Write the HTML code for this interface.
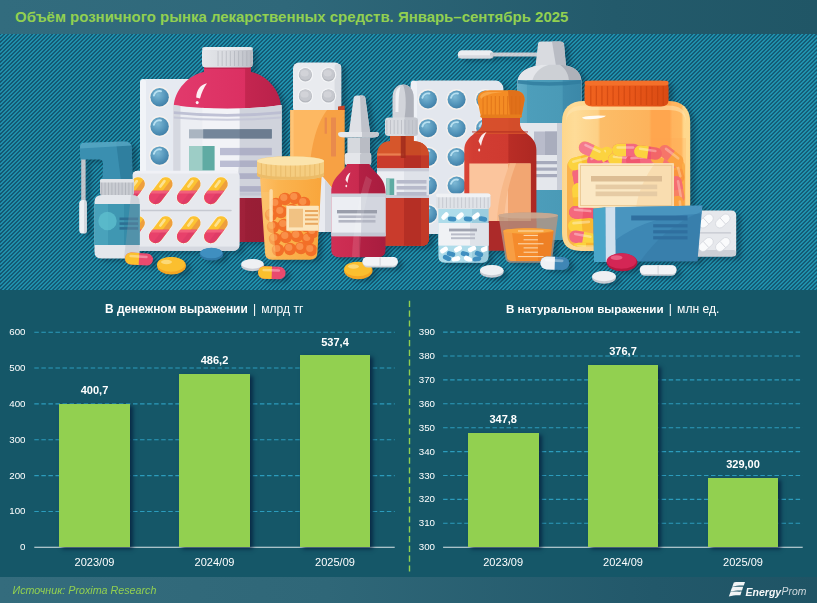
<!DOCTYPE html>
<html lang="ru">
<head>
<meta charset="utf-8">
<title>Объём розничного рынка лекарственных средств</title>
<style>
html,body{margin:0;padding:0;}
body{width:817px;height:603px;position:relative;overflow:hidden;background:#155768;font-family:"Liberation Sans",sans-serif;color:#fff;}
#titlebar{position:absolute;left:0;top:0;width:817px;height:34px;background:linear-gradient(90deg,#326c7e 0%,#2f687a 35%,#235a6b 75%,#205666 100%);}
#titlebar h1{position:absolute;left:15px;top:6.4px;margin:0;font-size:14.96px;line-height:22px;font-weight:bold;color:#92d050;white-space:nowrap;}
#hero{position:absolute;left:0;top:34px;width:817px;height:256px;overflow:hidden;background:#1d7c95;}
#hero svg{position:absolute;left:0;top:-34px;}
#charts{position:absolute;left:0;top:290px;width:817px;height:287px;background:#155768;}
#footer{position:absolute;left:0;top:577px;width:817px;height:26px;background:linear-gradient(90deg,#346c7d 0%,#2f6778 40%,#22586a 80%,#1f5465 100%);}
#footer .src{position:absolute;left:12.5px;top:6px;font-size:10.73px;line-height:14px;font-style:italic;color:#92d050;white-space:nowrap;}
.ct{position:absolute;top:301px;height:16px;line-height:16px;font-size:12.1px;white-space:nowrap;color:#fff;}
.ct b{font-weight:bold;font-size:11.91px;}
.ct b.b2{font-size:11.62px;}
.ct .sep{display:inline-block;margin:0 1.8px;}
.yl{position:absolute;width:30px;text-align:right;font-size:9.77px;line-height:12px;color:#fff;}
.xl{position:absolute;width:80px;text-align:center;font-size:11.04px;line-height:12px;color:#fff;top:556px;}
.dl{position:absolute;width:80px;text-align:center;font-size:11.03px;line-height:12px;font-weight:bold;color:#fff;}
.bar{position:absolute;background:#92d050;box-shadow:3px 2px 4px rgba(4,28,60,0.75);}
.lg1{position:absolute;left:745.6px;top:9px;font-size:10.5px;line-height:12px;font-weight:bold;font-style:italic;color:#f4f7f8;white-space:nowrap;}
.lg2{position:absolute;left:781.6px;top:9px;font-size:10.4px;line-height:12px;font-style:italic;color:#cfd9dd;white-space:nowrap;}
</style>
</head>
<body>
<div id="titlebar"><h1>Объём розничного рынка лекарственных средств. Январь–сентябрь 2025</h1></div>
<div id="hero">
<svg width="817" height="603" viewBox="0 0 817 603">
<defs>


<radialGradient id="gBluePill" cx="0.4" cy="0.35" r="0.75"><stop offset="0" stop-color="#7db9d5"/><stop offset="0.55" stop-color="#5596bb"/><stop offset="1" stop-color="#3a78a1"/></radialGradient>
<linearGradient id="gRedBig" x1="0" x2="1"><stop offset="0" stop-color="#e23a6c"/><stop offset="0.66" stop-color="#db3062"/><stop offset="0.67" stop-color="#c42650"/><stop offset="1" stop-color="#b9214a"/></linearGradient>
<linearGradient id="gRedBigLow" x1="0" x2="1"><stop offset="0" stop-color="#a6233c"/><stop offset="0.66" stop-color="#a0213a"/><stop offset="0.67" stop-color="#9a1e36"/><stop offset="1" stop-color="#941d34"/></linearGradient>
<linearGradient id="gLabelBig" x1="0" x2="1"><stop offset="0" stop-color="#eceef3"/><stop offset="0.62" stop-color="#e6e8ee"/><stop offset="0.63" stop-color="#cfd2dc"/><stop offset="1" stop-color="#c4c8d3"/></linearGradient>
<linearGradient id="gCapGrey" x1="0" x2="1"><stop offset="0" stop-color="#e4e6ea"/><stop offset="0.5" stop-color="#d9dbe0"/><stop offset="1" stop-color="#b9bcc4"/></linearGradient>
<linearGradient id="gJarBig" x1="0" x2="1"><stop offset="0" stop-color="#fdd68c"/><stop offset="0.1" stop-color="#fedc98"/><stop offset="0.28" stop-color="#fdd086"/><stop offset="0.3" stop-color="#fcbd68"/><stop offset="0.68" stop-color="#fdb35c"/><stop offset="0.7" stop-color="#ffa64e"/><stop offset="0.84" stop-color="#ffa64e"/><stop offset="0.86" stop-color="#ffb45e"/><stop offset="0.93" stop-color="#ffb860"/><stop offset="0.95" stop-color="#ffd78c"/><stop offset="1" stop-color="#ffd98e"/></linearGradient>
<linearGradient id="gLidBig" x1="0" x2="1"><stop offset="0" stop-color="#f0641f"/><stop offset="0.5" stop-color="#ea581a"/><stop offset="1" stop-color="#d94a12"/></linearGradient>
<linearGradient id="gSyrup" x1="0" x2="1"><stop offset="0" stop-color="#d94436"/><stop offset="0.12" stop-color="#d23d33"/><stop offset="0.6" stop-color="#cf3a30"/><stop offset="0.62" stop-color="#b92d26"/><stop offset="1" stop-color="#ad2822"/></linearGradient>
<linearGradient id="gDropper" x1="0" x2="1"><stop offset="0" stop-color="#d5502a"/><stop offset="0.5" stop-color="#cb4327"/><stop offset="0.52" stop-color="#bd3921"/><stop offset="1" stop-color="#b0311c"/></linearGradient>
<linearGradient id="gNasal" x1="0" x2="1"><stop offset="0" stop-color="#cf2f55"/><stop offset="0.5" stop-color="#c92a4f"/><stop offset="0.52" stop-color="#b32044"/><stop offset="1" stop-color="#a81d3f"/></linearGradient>
<linearGradient id="gOrangeBox" x1="0" x2="1"><stop offset="0" stop-color="#fdb75e"/><stop offset="0.45" stop-color="#fbad50"/><stop offset="0.46" stop-color="#f99f3f"/><stop offset="1" stop-color="#f7993a"/></linearGradient>
<linearGradient id="gJarSm" x1="0" x2="1"><stop offset="0" stop-color="#fcc068"/><stop offset="0.3" stop-color="#fbb450"/><stop offset="1" stop-color="#f9a63c"/></linearGradient>
<linearGradient id="gCan" x1="0" x2="1"><stop offset="0" stop-color="#62adc7"/><stop offset="0.14" stop-color="#5aa7c2"/><stop offset="0.15" stop-color="#4d9ebb"/><stop offset="0.7" stop-color="#4a9ab7"/><stop offset="0.71" stop-color="#3f8dad"/><stop offset="1" stop-color="#3b88a8"/></linearGradient>
<filter id="sh" x="-5%" y="-5%" width="115%" height="115%" color-interpolation-filters="sRGB"><feGaussianBlur in="SourceAlpha" stdDeviation="2.2" result="b"/><feOffset in="b" dx="5" dy="3" result="o"/><feFlood flood-color="#06283a" flood-opacity="0.38" result="c"/><feComposite in="c" in2="o" operator="in" result="s"/><feMerge><feMergeNode in="s"/><feMergeNode in="SourceGraphic"/></feMerge></filter>

</defs>
<rect x="0" y="34" width="817" height="256" fill="#14506a"/>
<path d="M0 28.60L817 -788.40M0 32.60L817 -784.40M0 36.60L817 -780.40M0 40.60L817 -776.40M0 44.60L817 -772.40M0 48.60L817 -768.40M0 52.60L817 -764.40M0 56.60L817 -760.40M0 60.60L817 -756.40M0 64.60L817 -752.40M0 68.60L817 -748.40M0 72.60L817 -744.40M0 76.60L817 -740.40M0 80.60L817 -736.40M0 84.60L817 -732.40M0 88.60L817 -728.40M0 92.60L817 -724.40M0 96.60L817 -720.40M0 100.60L817 -716.40M0 104.60L817 -712.40M0 108.60L817 -708.40M0 112.60L817 -704.40M0 116.60L817 -700.40M0 120.60L817 -696.40M0 124.60L817 -692.40M0 128.60L817 -688.40M0 132.60L817 -684.40M0 136.60L817 -680.40M0 140.60L817 -676.40M0 144.60L817 -672.40M0 148.60L817 -668.40M0 152.60L817 -664.40M0 156.60L817 -660.40M0 160.60L817 -656.40M0 164.60L817 -652.40M0 168.60L817 -648.40M0 172.60L817 -644.40M0 176.60L817 -640.40M0 180.60L817 -636.40M0 184.60L817 -632.40M0 188.60L817 -628.40M0 192.60L817 -624.40M0 196.60L817 -620.40M0 200.60L817 -616.40M0 204.60L817 -612.40M0 208.60L817 -608.40M0 212.60L817 -604.40M0 216.60L817 -600.40M0 220.60L817 -596.40M0 224.60L817 -592.40M0 228.60L817 -588.40M0 232.60L817 -584.40M0 236.60L817 -580.40M0 240.60L817 -576.40M0 244.60L817 -572.40M0 248.60L817 -568.40M0 252.60L817 -564.40M0 256.60L817 -560.40M0 260.60L817 -556.40M0 264.60L817 -552.40M0 268.60L817 -548.40M0 272.60L817 -544.40M0 276.60L817 -540.40M0 280.60L817 -536.40M0 284.60L817 -532.40M0 288.60L817 -528.40M0 292.60L817 -524.40M0 296.60L817 -520.40M0 300.60L817 -516.40M0 304.60L817 -512.40M0 308.60L817 -508.40M0 312.60L817 -504.40M0 316.60L817 -500.40M0 320.60L817 -496.40M0 324.60L817 -492.40M0 328.60L817 -488.40M0 332.60L817 -484.40M0 336.60L817 -480.40M0 340.60L817 -476.40M0 344.60L817 -472.40M0 348.60L817 -468.40M0 352.60L817 -464.40M0 356.60L817 -460.40M0 360.60L817 -456.40M0 364.60L817 -452.40M0 368.60L817 -448.40M0 372.60L817 -444.40M0 376.60L817 -440.40M0 380.60L817 -436.40M0 384.60L817 -432.40M0 388.60L817 -428.40M0 392.60L817 -424.40M0 396.60L817 -420.40M0 400.60L817 -416.40M0 404.60L817 -412.40M0 408.60L817 -408.40M0 412.60L817 -404.40M0 416.60L817 -400.40M0 420.60L817 -396.40M0 424.60L817 -392.40M0 428.60L817 -388.40M0 432.60L817 -384.40M0 436.60L817 -380.40M0 440.60L817 -376.40M0 444.60L817 -372.40M0 448.60L817 -368.40M0 452.60L817 -364.40M0 456.60L817 -360.40M0 460.60L817 -356.40M0 464.60L817 -352.40M0 468.60L817 -348.40M0 472.60L817 -344.40M0 476.60L817 -340.40M0 480.60L817 -336.40M0 484.60L817 -332.40M0 488.60L817 -328.40M0 492.60L817 -324.40M0 496.60L817 -320.40M0 500.60L817 -316.40M0 504.60L817 -312.40M0 508.60L817 -308.40M0 512.60L817 -304.40M0 516.60L817 -300.40M0 520.60L817 -296.40M0 524.60L817 -292.40M0 528.60L817 -288.40M0 532.60L817 -284.40M0 536.60L817 -280.40M0 540.60L817 -276.40M0 544.60L817 -272.40M0 548.60L817 -268.40M0 552.60L817 -264.40M0 556.60L817 -260.40M0 560.60L817 -256.40M0 564.60L817 -252.40M0 568.60L817 -248.40M0 572.60L817 -244.40M0 576.59L817 -240.41M0 580.59L817 -236.41M0 584.59L817 -232.41M0 588.59L817 -228.41M0 592.59L817 -224.41M0 596.59L817 -220.41M0 600.59L817 -216.41M0 604.59L817 -212.41M0 608.59L817 -208.41M0 612.59L817 -204.41M0 616.59L817 -200.41M0 620.59L817 -196.41M0 624.59L817 -192.41M0 628.59L817 -188.41M0 632.59L817 -184.41M0 636.59L817 -180.41M0 640.59L817 -176.41M0 644.59L817 -172.41M0 648.59L817 -168.41M0 652.59L817 -164.41M0 656.59L817 -160.41M0 660.59L817 -156.41M0 664.59L817 -152.41M0 668.59L817 -148.41M0 672.59L817 -144.41M0 676.59L817 -140.41M0 680.59L817 -136.41M0 684.59L817 -132.41M0 688.59L817 -128.41M0 692.59L817 -124.41M0 696.59L817 -120.41M0 700.59L817 -116.41M0 704.59L817 -112.41M0 708.59L817 -108.41M0 712.59L817 -104.41M0 716.59L817 -100.41M0 720.59L817 -96.41M0 724.59L817 -92.41M0 728.59L817 -88.41M0 732.59L817 -84.41M0 736.59L817 -80.41M0 740.59L817 -76.41M0 744.59L817 -72.41M0 748.59L817 -68.41M0 752.59L817 -64.41M0 756.59L817 -60.41M0 760.59L817 -56.41M0 764.59L817 -52.41M0 768.59L817 -48.41M0 772.59L817 -44.41M0 776.59L817 -40.41M0 780.59L817 -36.41M0 784.59L817 -32.41M0 788.59L817 -28.41M0 792.59L817 -24.41M0 796.59L817 -20.41M0 800.59L817 -16.41M0 804.59L817 -12.41M0 808.59L817 -8.41M0 812.59L817 -4.41M0 816.59L817 -0.41M0 820.59L817 3.59M0 824.59L817 7.59M0 828.59L817 11.59M0 832.59L817 15.59M0 836.59L817 19.59M0 840.59L817 23.59M0 844.59L817 27.59M0 848.59L817 31.59M0 852.59L817 35.59M0 856.59L817 39.59M0 860.59L817 43.59M0 864.59L817 47.59M0 868.59L817 51.59M0 872.59L817 55.59M0 876.59L817 59.59M0 880.59L817 63.59M0 884.59L817 67.59M0 888.59L817 71.59M0 892.59L817 75.59M0 896.59L817 79.59M0 900.59L817 83.59M0 904.59L817 87.59M0 908.59L817 91.59M0 912.59L817 95.59M0 916.59L817 99.59M0 920.59L817 103.59M0 924.59L817 107.59M0 928.59L817 111.59M0 932.59L817 115.59M0 936.59L817 119.59M0 940.59L817 123.59M0 944.59L817 127.59M0 948.59L817 131.59M0 952.59L817 135.59M0 956.59L817 139.59M0 960.59L817 143.59M0 964.59L817 147.59M0 968.59L817 151.59M0 972.59L817 155.59M0 976.59L817 159.59M0 980.59L817 163.59M0 984.59L817 167.59M0 988.59L817 171.59M0 992.59L817 175.59M0 996.59L817 179.59M0 1000.59L817 183.59M0 1004.59L817 187.59M0 1008.59L817 191.59M0 1012.59L817 195.59M0 1016.59L817 199.59M0 1020.59L817 203.59M0 1024.59L817 207.59M0 1028.59L817 211.59M0 1032.59L817 215.59M0 1036.59L817 219.59M0 1040.59L817 223.59M0 1044.59L817 227.59M0 1048.59L817 231.59M0 1052.59L817 235.59M0 1056.59L817 239.59M0 1060.59L817 243.59M0 1064.59L817 247.59M0 1068.59L817 251.59M0 1072.59L817 255.59M0 1076.59L817 259.59M0 1080.59L817 263.59M0 1084.59L817 267.59M0 1088.59L817 271.59M0 1092.59L817 275.59M0 1096.59L817 279.59M0 1100.59L817 283.59M0 1104.59L817 287.59M0 1108.59L817 291.59" stroke="#2197b3" stroke-width="1.48" fill="none"/>
<g id="objects" filter="url(#sh)">
<rect x="140" y="79" width="60.00" height="97.00" rx="6" fill="#e6eaf1" />
<rect x="140" y="79" width="6.00" height="97.00" rx="3" fill="#f1f4f8" />
<ellipse cx="159.6" cy="97.3" rx="10.7" ry="10.7" fill="#f5f1ee" /><ellipse cx="159.6" cy="97.3" rx="9.2" ry="9.2" fill="url(#gBluePill)" /><path d="M153.896 95.46 A6.072 6.072 0 0 1 160.98 91.228" fill="none" stroke="#bfe6f5" stroke-width="2.02" stroke-linecap="round" opacity="0.9"/>
<ellipse cx="159.6" cy="126.5" rx="10.7" ry="10.7" fill="#f5f1ee" /><ellipse cx="159.6" cy="126.5" rx="9.2" ry="9.2" fill="url(#gBluePill)" /><path d="M153.896 124.66 A6.072 6.072 0 0 1 160.98 120.428" fill="none" stroke="#bfe6f5" stroke-width="2.02" stroke-linecap="round" opacity="0.9"/>
<ellipse cx="159.6" cy="155.6" rx="10.7" ry="10.7" fill="#f5f1ee" /><ellipse cx="159.6" cy="155.6" rx="9.2" ry="9.2" fill="url(#gBluePill)" /><path d="M153.896 153.76 A6.072 6.072 0 0 1 160.98 149.528" fill="none" stroke="#bfe6f5" stroke-width="2.02" stroke-linecap="round" opacity="0.9"/>
<rect x="293" y="62.5" width="48.20" height="51.50" rx="6" fill="#e9ebef" />
<rect x="334.6" y="64" width="6.60" height="50.00" rx="3" fill="#d9dce2" />
<ellipse cx="305.4" cy="74.8" rx="7.8" ry="7.8" fill="#f4f5f7" />
<ellipse cx="305.4" cy="74.8" rx="6.6" ry="6.6" fill="#b4b7be" />
<ellipse cx="305.4" cy="74.1" rx="6.2" ry="5.9" fill="#c6c8ce" />
<ellipse cx="304.59999999999997" cy="73.2" rx="4" ry="3.2" fill="#d4d6db" opacity="0.8"/>
<ellipse cx="305.4" cy="96" rx="7.8" ry="7.8" fill="#f4f5f7" />
<ellipse cx="305.4" cy="96" rx="6.6" ry="6.6" fill="#b4b7be" />
<ellipse cx="305.4" cy="95.3" rx="6.2" ry="5.9" fill="#c6c8ce" />
<ellipse cx="304.59999999999997" cy="94.4" rx="4" ry="3.2" fill="#d4d6db" opacity="0.8"/>
<ellipse cx="328.5" cy="74.8" rx="7.8" ry="7.8" fill="#f4f5f7" />
<ellipse cx="328.5" cy="74.8" rx="6.6" ry="6.6" fill="#b4b7be" />
<ellipse cx="328.5" cy="74.1" rx="6.2" ry="5.9" fill="#c6c8ce" />
<ellipse cx="327.7" cy="73.2" rx="4" ry="3.2" fill="#d4d6db" opacity="0.8"/>
<ellipse cx="328.5" cy="96" rx="7.8" ry="7.8" fill="#f4f5f7" />
<ellipse cx="328.5" cy="96" rx="6.6" ry="6.6" fill="#b4b7be" />
<ellipse cx="328.5" cy="95.3" rx="6.2" ry="5.9" fill="#c6c8ce" />
<ellipse cx="327.7" cy="94.4" rx="4" ry="3.2" fill="#d4d6db" opacity="0.8"/>
<path d="M338 106.5 L344.7 105.5 V112 H338 Z" fill="#c8452a" />
<path d="M290.4 110 H344.7 V200 H290.4 Z" fill="#f7a144" />
<path d="M290.4 110 H327 C316.5 124 309 146 307.6 200 H290.4 Z" fill="#fdb862" />
<path d="M290.4 110 H293.6 V200 H290.4 Z" fill="#fec77c" opacity="0.8"/>
<rect x="324.6" y="117.5" width="2.30" height="16.30" rx="0.4" fill="#e98a4c" />
<rect x="331" y="117.5" width="5.00" height="38.90" rx="0.4" fill="#e98a4c" />
<path d="M204 66 H251 V72 C265 74 281 90 281 107 V242 H173.8 V107 C173.8 90 190 74 204 72 Z" fill="url(#gRedBig)" />
<path d="M173.8 197 H281 V236 Q281 242 275 242 H180 Q173.8 242 173.8 236 Z" fill="url(#gRedBigLow)" />
<clipPath id="cpLab"><path d="M173.2 105 Q227 112.5 281.6 105 V198 H173.2 Z"/></clipPath>
<g clip-path="url(#cpLab)">
<rect x="173" y="100" width="109.00" height="98.00" rx="0" fill="#eceef3" />
<rect x="173" y="100" width="7.50" height="98.00" rx="0" fill="#d5d8e0" />
<rect x="202.4" y="100" width="37.30" height="98.00" rx="0" fill="#f2f3f7" />
<path d="M239.7 100 H282 V198 H237 C236.5 180 239.7 165 239.7 150 Z" fill="#d0d3dc" />
<path d="M173.8 111.2 Q227 116.6 281 111.2 V114 Q227 119.4 173.8 114 Z" fill="#b9bbd0" opacity="0.9"/>
<path d="M173.8 116.4 Q227 121 281 116.4 V118.4 Q227 123 173.8 118.4 Z" fill="#c2c4d6" opacity="0.8"/>
<rect x="173.8" y="192.5" width="107.20" height="3.00" rx="0" fill="#b9bccb" opacity="0.6"/>
<rect x="189" y="129.3" width="82.70" height="9.10" rx="0" fill="#aab5c1" />
<rect x="203.2" y="129.3" width="68.50" height="9.10" rx="0" fill="#74869a" />
<rect x="239.7" y="129.3" width="32.00" height="9.10" rx="0" fill="#6c7c90" />
<rect x="189" y="146" width="25.60" height="24.70" rx="0" fill="#5faba3" />
<rect x="189" y="146" width="13.50" height="24.70" rx="0" fill="#9dcdc6" />
<rect x="220" y="147.9" width="51.70" height="7.30" rx="0" fill="#bbbdd3" />
<rect x="239.7" y="147.9" width="32.00" height="7.30" rx="0" fill="#aeb0c6" />
<rect x="220" y="160.6" width="51.70" height="6.40" rx="0" fill="#bbbdd3" />
<rect x="239.7" y="160.6" width="32.00" height="6.40" rx="0" fill="#aeb0c6" />
<rect x="220" y="173.4" width="51.70" height="5.50" rx="0" fill="#bbbdd3" />
<rect x="239.7" y="173.4" width="32.00" height="5.50" rx="0" fill="#aeb0c6" />
<rect x="220" y="186.2" width="51.70" height="5.40" rx="0" fill="#bbbdd3" />
<rect x="239.7" y="186.2" width="32.00" height="5.40" rx="0" fill="#aeb0c6" />
</g>
<rect x="204" y="66" width="47.00" height="3.00" rx="0" fill="#b91f49" opacity="0.7"/>
<path d="M196.2 97.5 C196.5 90 200.5 84.5 207 83.2 C204 87.5 201.5 92.5 200 98.6 Z" fill="#fff" opacity="0.92"/>
<ellipse cx="197.2" cy="102.6" rx="1.5" ry="1.7" fill="#fff" opacity="0.92"/>
<path d="M202 52 Q202 47 207 47 H248 Q253 47 253 52 V64 Q253 67.5 249 67.5 H206 Q202 67.5 202 64 Z" fill="url(#gCapGrey)" />
<line x1="218.06" x2="218.06" y1="51" y2="66" stroke="#9ea2ab" stroke-width="1" opacity="0.45"/><line x1="222.17" x2="222.17" y1="51" y2="66" stroke="#9ea2ab" stroke-width="1" opacity="0.45"/><line x1="226.28" x2="226.28" y1="51" y2="66" stroke="#9ea2ab" stroke-width="1" opacity="0.45"/><line x1="230.39" x2="230.39" y1="51" y2="66" stroke="#9ea2ab" stroke-width="1" opacity="0.45"/><line x1="234.50" x2="234.50" y1="51" y2="66" stroke="#9ea2ab" stroke-width="1" opacity="0.45"/><line x1="238.61" x2="238.61" y1="51" y2="66" stroke="#9ea2ab" stroke-width="1" opacity="0.45"/><line x1="242.72" x2="242.72" y1="51" y2="66" stroke="#9ea2ab" stroke-width="1" opacity="0.45"/><line x1="246.83" x2="246.83" y1="51" y2="66" stroke="#9ea2ab" stroke-width="1" opacity="0.45"/><line x1="250.94" x2="250.94" y1="51" y2="66" stroke="#9ea2ab" stroke-width="1" opacity="0.45"/>
<rect x="202" y="47" width="51.00" height="3.00" rx="2" fill="#eef0f3" opacity="0.8"/>
<rect x="457.8" y="50.2" width="35.70" height="8.40" rx="4.2" fill="#eceef1" />
<rect x="490" y="52.6" width="50.00" height="4.00" rx="1" fill="#c9ccd2" />
<rect x="457.8" y="55.2" width="35.70" height="3.40" rx="2" fill="#cfd2d8" opacity="0.7"/>
<path d="M538 44 Q538 41.5 541 41.5 H560 Q563.5 41.5 564 44 L566 66 H535.5 Z" fill="#d9dbe0" />
<path d="M552 41.5 H560 Q563.5 41.5 564 44 L566 66 H556 Z" fill="#b9bcc4" />
<path d="M517.5 83 C517.5 74 524 69.5 532 67 C536 65.6 540 65 544 64.8 H560 C566 65.2 571 66.6 575 69 C579 72 581.5 76 581.5 83 Z" fill="#cdd0d5" />
<path d="M517.5 83 C517.5 74 524 69.5 532 67 C536 65.6 540 65 544 64.8 H549 C541 67 533 73 532 83 Z" fill="#e4e6ea" />
<path d="M560 64.8 C566 65.2 571 66.6 575 69 C579 72 581.5 76 581.5 83 H569 C569 75 566 69 560 64.8 Z" fill="#aeb1b9" />
<rect x="517.5" y="80" width="64.00" height="160.00" rx="0" fill="#e4e7ec" />
<rect x="517.5" y="80" width="64.00" height="43.00" rx="0" fill="url(#gCan)" />
<path d="M517.5 80 Q549 84.5 581.5 80 V83.5 Q549 88 517.5 83.5 Z" fill="#2f7c9d" opacity="0.8"/>
<rect x="517.5" y="190" width="64.00" height="50.00" rx="0" fill="url(#gCan)" />
<rect x="534" y="131.5" width="23.00" height="23.50" rx="0" fill="#b9bccb" />
<rect x="545" y="131.5" width="12.00" height="23.50" rx="0" fill="#a9adbd" />
<rect x="534" y="161" width="23.00" height="3.20" rx="0" fill="#a6aabc" />
<rect x="534" y="167.5" width="23.00" height="3.20" rx="0" fill="#a6aabc" />
<rect x="534" y="174" width="23.00" height="3.20" rx="0" fill="#a6aabc" />
<rect x="557" y="123" width="24.70" height="67.00" rx="0" fill="#c9cdd6" />
<rect x="410.6" y="80.6" width="92.80" height="153.40" rx="8" fill="#e3e7ee" />
<rect x="410.6" y="80.6" width="6.40" height="153.40" rx="4" fill="#eef1f6" />
<ellipse cx="428" cy="99.5" rx="10.5" ry="10.5" fill="#f5f1ee" /><ellipse cx="428" cy="99.5" rx="9.0" ry="9.0" fill="url(#gBluePill)" /><path d="M422.42 97.7 A5.94 5.94 0 0 1 429.35 93.56" fill="none" stroke="#bfe6f5" stroke-width="1.98" stroke-linecap="round" opacity="0.9"/>
<ellipse cx="428" cy="128.2" rx="10.5" ry="10.5" fill="#f5f1ee" /><ellipse cx="428" cy="128.2" rx="9.0" ry="9.0" fill="url(#gBluePill)" /><path d="M422.42 126.39999999999999 A5.94 5.94 0 0 1 429.35 122.25999999999999" fill="none" stroke="#bfe6f5" stroke-width="1.98" stroke-linecap="round" opacity="0.9"/>
<ellipse cx="428" cy="157" rx="10.5" ry="10.5" fill="#f5f1ee" /><ellipse cx="428" cy="157" rx="9.0" ry="9.0" fill="url(#gBluePill)" /><path d="M422.42 155.2 A5.94 5.94 0 0 1 429.35 151.06" fill="none" stroke="#bfe6f5" stroke-width="1.98" stroke-linecap="round" opacity="0.9"/>
<ellipse cx="428" cy="185.6" rx="10.5" ry="10.5" fill="#f5f1ee" /><ellipse cx="428" cy="185.6" rx="9.0" ry="9.0" fill="url(#gBluePill)" /><path d="M422.42 183.79999999999998 A5.94 5.94 0 0 1 429.35 179.66" fill="none" stroke="#bfe6f5" stroke-width="1.98" stroke-linecap="round" opacity="0.9"/>
<ellipse cx="428" cy="214.2" rx="10.5" ry="10.5" fill="#f5f1ee" /><ellipse cx="428" cy="214.2" rx="9.0" ry="9.0" fill="url(#gBluePill)" /><path d="M422.42 212.39999999999998 A5.94 5.94 0 0 1 429.35 208.26" fill="none" stroke="#bfe6f5" stroke-width="1.98" stroke-linecap="round" opacity="0.9"/>
<ellipse cx="456.6" cy="99.5" rx="10.5" ry="10.5" fill="#f5f1ee" /><ellipse cx="456.6" cy="99.5" rx="9.0" ry="9.0" fill="url(#gBluePill)" /><path d="M451.02000000000004 97.7 A5.94 5.94 0 0 1 457.95000000000005 93.56" fill="none" stroke="#bfe6f5" stroke-width="1.98" stroke-linecap="round" opacity="0.9"/>
<ellipse cx="456.6" cy="128.2" rx="10.5" ry="10.5" fill="#f5f1ee" /><ellipse cx="456.6" cy="128.2" rx="9.0" ry="9.0" fill="url(#gBluePill)" /><path d="M451.02000000000004 126.39999999999999 A5.94 5.94 0 0 1 457.95000000000005 122.25999999999999" fill="none" stroke="#bfe6f5" stroke-width="1.98" stroke-linecap="round" opacity="0.9"/>
<ellipse cx="456.6" cy="157" rx="10.5" ry="10.5" fill="#f5f1ee" /><ellipse cx="456.6" cy="157" rx="9.0" ry="9.0" fill="url(#gBluePill)" /><path d="M451.02000000000004 155.2 A5.94 5.94 0 0 1 457.95000000000005 151.06" fill="none" stroke="#bfe6f5" stroke-width="1.98" stroke-linecap="round" opacity="0.9"/>
<ellipse cx="456.6" cy="185.6" rx="10.5" ry="10.5" fill="#f5f1ee" /><ellipse cx="456.6" cy="185.6" rx="9.0" ry="9.0" fill="url(#gBluePill)" /><path d="M451.02000000000004 183.79999999999998 A5.94 5.94 0 0 1 457.95000000000005 179.66" fill="none" stroke="#bfe6f5" stroke-width="1.98" stroke-linecap="round" opacity="0.9"/>
<ellipse cx="456.6" cy="214.2" rx="10.5" ry="10.5" fill="#f5f1ee" /><ellipse cx="456.6" cy="214.2" rx="9.0" ry="9.0" fill="url(#gBluePill)" /><path d="M451.02000000000004 212.39999999999998 A5.94 5.94 0 0 1 457.95000000000005 208.26" fill="none" stroke="#bfe6f5" stroke-width="1.98" stroke-linecap="round" opacity="0.9"/>
<ellipse cx="485.2" cy="99.5" rx="10.5" ry="10.5" fill="#f5f1ee" /><ellipse cx="485.2" cy="99.5" rx="9.0" ry="9.0" fill="url(#gBluePill)" /><path d="M479.62 97.7 A5.94 5.94 0 0 1 486.55 93.56" fill="none" stroke="#bfe6f5" stroke-width="1.98" stroke-linecap="round" opacity="0.9"/>
<ellipse cx="485.2" cy="128.2" rx="10.5" ry="10.5" fill="#f5f1ee" /><ellipse cx="485.2" cy="128.2" rx="9.0" ry="9.0" fill="url(#gBluePill)" /><path d="M479.62 126.39999999999999 A5.94 5.94 0 0 1 486.55 122.25999999999999" fill="none" stroke="#bfe6f5" stroke-width="1.98" stroke-linecap="round" opacity="0.9"/>
<ellipse cx="485.2" cy="157" rx="10.5" ry="10.5" fill="#f5f1ee" /><ellipse cx="485.2" cy="157" rx="9.0" ry="9.0" fill="url(#gBluePill)" /><path d="M479.62 155.2 A5.94 5.94 0 0 1 486.55 151.06" fill="none" stroke="#bfe6f5" stroke-width="1.98" stroke-linecap="round" opacity="0.9"/>
<ellipse cx="485.2" cy="185.6" rx="10.5" ry="10.5" fill="#f5f1ee" /><ellipse cx="485.2" cy="185.6" rx="9.0" ry="9.0" fill="url(#gBluePill)" /><path d="M479.62 183.79999999999998 A5.94 5.94 0 0 1 486.55 179.66" fill="none" stroke="#bfe6f5" stroke-width="1.98" stroke-linecap="round" opacity="0.9"/>
<ellipse cx="485.2" cy="214.2" rx="10.5" ry="10.5" fill="#f5f1ee" /><ellipse cx="485.2" cy="214.2" rx="9.0" ry="9.0" fill="url(#gBluePill)" /><path d="M479.62 212.39999999999998 A5.94 5.94 0 0 1 486.55 208.26" fill="none" stroke="#bfe6f5" stroke-width="1.98" stroke-linecap="round" opacity="0.9"/>
<path d="M316 172 L323.5 177.5 L332 188 L332 232 L316 232 Z" fill="#e9ebf0" />
<path d="M325 180 L332 188 L332 232 L325 232 Z" fill="#d3d6de" />
<clipPath id="cpDrop"><path d="M390 134 H413.7 V141 C423 141.6 429 146.5 429 156 V238 Q429 245.8 421.5 245.8 H384.5 Q377 245.8 377 238 V156 C377 146.5 381.5 141.6 390 141 Z"/></clipPath>
<g clip-path="url(#cpDrop)">
<rect x="376" y="130" width="54.00" height="120.00" rx="0" fill="#d6562b" />
<rect x="404" y="130" width="26.00" height="120.00" rx="0" fill="#c84a25" />
<rect x="376" y="155.5" width="54.00" height="94.50" rx="0" fill="#c93b2c" />
<rect x="404" y="155.5" width="26.00" height="94.50" rx="0" fill="#b52f25" />
<rect x="376" y="153.4" width="28.00" height="2.20" rx="0" fill="#ef8a5a" opacity="0.8"/>
<rect x="400.8" y="130" width="4.80" height="28.00" rx="0" fill="#a02a1c" opacity="0.85"/>
<rect x="421" y="141" width="9.00" height="109.00" rx="0" fill="#d9502d" opacity="0.35"/>
<rect x="376" y="168.3" width="54.00" height="29.70" rx="0" fill="#eceef3" />
<rect x="404" y="168.3" width="26.00" height="29.70" rx="0" fill="#dfe2e9" />
<rect x="376" y="168.3" width="54.00" height="3.00" rx="0" fill="#c3c6d2" opacity="0.8"/>
<rect x="376" y="195" width="54.00" height="3.00" rx="0" fill="#c3c6d2" opacity="0.8"/>
<rect x="386.2" y="178.5" width="8.00" height="16.50" rx="0" fill="#5faba3" />
<rect x="386.2" y="178.5" width="3.40" height="16.50" rx="0" fill="#9dcdc6" />
<rect x="396.6" y="180" width="29.90" height="3.60" rx="0" fill="#b7bacb" />
<rect x="396.6" y="186" width="29.90" height="3.60" rx="0" fill="#b7bacb" />
<rect x="396.6" y="192" width="29.90" height="3.60" rx="0" fill="#b7bacb" />
</g>
<path d="M392.5 98 C392.5 89 397 84.5 403 84.5 C409 84.5 413.7 89 413.7 98 V122 H392.5 Z" fill="#d2d4da" />
<path d="M403 84.5 C409 84.5 413.7 89 413.7 98 V122 H404 C406 110 407 95 403 84.5 Z" fill="#aeb1ba" />
<path d="M395.5 96 C395.5 91 397.5 88 400.5 87 C399 91 398.5 100 398.5 112 H395.5 Z" fill="#f3f4f6" opacity="0.9"/>
<path d="M385 121 Q385 117.6 389 117.6 H414 Q418 117.6 418 121 V133 Q418 136 414 136 H389 Q385 136 385 133 Z" fill="#d9dbe0" />
<line x1="386.83" x2="386.83" y1="120" y2="134" stroke="#a2a6af" stroke-width="1" opacity="0.45"/><line x1="390.50" x2="390.50" y1="120" y2="134" stroke="#a2a6af" stroke-width="1" opacity="0.45"/><line x1="394.17" x2="394.17" y1="120" y2="134" stroke="#a2a6af" stroke-width="1" opacity="0.45"/><line x1="397.83" x2="397.83" y1="120" y2="134" stroke="#a2a6af" stroke-width="1" opacity="0.45"/><line x1="401.50" x2="401.50" y1="120" y2="134" stroke="#a2a6af" stroke-width="1" opacity="0.45"/><line x1="405.17" x2="405.17" y1="120" y2="134" stroke="#a2a6af" stroke-width="1" opacity="0.45"/><line x1="408.83" x2="408.83" y1="120" y2="134" stroke="#a2a6af" stroke-width="1" opacity="0.45"/><line x1="412.50" x2="412.50" y1="120" y2="134" stroke="#a2a6af" stroke-width="1" opacity="0.45"/><line x1="416.17" x2="416.17" y1="120" y2="134" stroke="#a2a6af" stroke-width="1" opacity="0.45"/>
<rect x="404" y="117.6" width="14.00" height="18.40" rx="3" fill="#b9bcc4" opacity="0.6"/>
<path d="M482 118 H520 V124 C520 128 522 130 526 133 C533 138 536.4 143 536.4 150 V244 Q536.4 250.4 530 250.4 H470.5 Q464.3 250.4 464.3 244 V150 C464.3 143 468 138 475 133 C479 130 482 128 482 124 Z" fill="url(#gSyrup)" />
<path d="M482 118 H520 V124 C520 128 522 130 526 133 L527.5 134 H473 L475 133 C479 130 482 128 482 124 Z" fill="#d8532b" opacity="0.85"/>
<rect x="472" y="131.2" width="56.00" height="1.40" rx="0" fill="#a9241f" opacity="0.6"/>
<rect x="464.3" y="221" width="72.10" height="29.40" rx="0" fill="#9e2426" opacity="0.55"/>
<path d="M464.3 244 V221 H536.4 V244 Q536.4 250.4 530 250.4 H470.5 Q464.3 250.4 464.3 244 Z" fill="#a32528" opacity="0.5"/>
<rect x="469.3" y="163.5" width="61.30" height="57.50" rx="0" fill="#fbc59d" />
<rect x="508" y="163.5" width="22.60" height="57.50" rx="0" fill="#f2a672" />
<path d="M497 221 C498 200 503 180 510 163.5 H516 C509 182 505 200 504 221 Z" fill="#f7b98a" />
<path d="M478.5 141 C480 136 483 133 486.5 132 C484 136 482 140 481 146 Z" fill="#fff" opacity="0.9"/>
<ellipse cx="479.2" cy="150" rx="1" ry="1.6" fill="#fff" opacity="0.85"/>
<path d="M477.5 100 C477.5 93 482 90.3 490 90.3 H512 C520 90.3 524.6 93 524.6 100 L522 113.5 Q521.6 118 516 118 H485.5 Q480.6 118 480.2 113.5 Z" fill="#f48c24" />
<path d="M508 90.3 H512 C520 90.3 524.6 93 524.6 100 L522 113.5 Q521.6 118 516 118 H510 Z" fill="#e0701a" />
<line x1="483.05" x2="483.05" y1="96" y2="116" stroke="#d96a14" stroke-width="1.1" opacity="0.6"/><line x1="487.15" x2="487.15" y1="96" y2="116" stroke="#d96a14" stroke-width="1.1" opacity="0.6"/><line x1="491.25" x2="491.25" y1="96" y2="116" stroke="#d96a14" stroke-width="1.1" opacity="0.6"/><line x1="495.35" x2="495.35" y1="96" y2="116" stroke="#d96a14" stroke-width="1.1" opacity="0.6"/><line x1="499.45" x2="499.45" y1="96" y2="116" stroke="#d96a14" stroke-width="1.1" opacity="0.6"/><line x1="503.55" x2="503.55" y1="96" y2="116" stroke="#d96a14" stroke-width="1.1" opacity="0.6"/><line x1="507.65" x2="507.65" y1="96" y2="116" stroke="#d96a14" stroke-width="1.1" opacity="0.6"/><line x1="511.75" x2="511.75" y1="96" y2="116" stroke="#d96a14" stroke-width="1.1" opacity="0.6"/><line x1="515.85" x2="515.85" y1="96" y2="116" stroke="#d96a14" stroke-width="1.1" opacity="0.6"/><line x1="519.95" x2="519.95" y1="96" y2="116" stroke="#d96a14" stroke-width="1.1" opacity="0.6"/>
<path d="M480 97 C481 93.5 484 92 490 92 H503 C492 93 484 95 481.5 99 Z" fill="#f9a648" opacity="0.9"/>
<rect x="480.4" y="114.6" width="41.40" height="3.40" rx="2" fill="#e67c1c" />
<path d="M562 122 C562 108 570 101 584 101 H668 C682 101 690.2 108 690.2 122 V232 C690.2 246 684 251 668 251 H584 C568 251 562 246 562 232 Z" fill="url(#gJarBig)" />
<path d="M566 121 C566 110 572 105.5 584 105.5 H668 C680 105.5 686 110 686 121 V124 C686 114 680 110 668 110 H584 C572 110 566 114 566 124 Z" fill="#fee6b0" opacity="0.55"/>
<path d="M582 117.5 Q590 115 606 115.8 Q604 118.6 590 119.2 Q583 119.6 582 117.5 Z" fill="#fff" opacity="0.9"/>
<clipPath id="cpJar"><path d="M567 138 H685 V232 C685 243 681 247 668 247 H584 C571 247 567 243 567 232 Z"/></clipPath>
<g clip-path="url(#cpJar)">
<rect x="567" y="160" width="118.00" height="87.00" rx="6" fill="#f9a83a" opacity="0.8"/>
<g transform="translate(580 181) rotate(80)" ><rect x="-14.0" y="-6.25" width="28" height="12.5" rx="6.25" fill="#f4687e"/><path d="M0 -6.25 H-7.75 A6.25 6.25 0 0 0 -7.75 6.25 H0 Z" fill="#f4687e"/><rect x="-9.625" y="-3.875" width="18.0" height="2.625" rx="1.3125" fill="#fff" opacity="0.35"/></g>
<g transform="translate(579 197) rotate(85)" ><rect x="-14.0" y="-6.25" width="28" height="12.5" rx="6.25" fill="#f9c033"/><path d="M0 -6.25 H-7.75 A6.25 6.25 0 0 0 -7.75 6.25 H0 Z" fill="#fcd33f"/><rect x="-9.625" y="-3.875" width="18.0" height="2.625" rx="1.3125" fill="#fff" opacity="0.35"/></g>
<g transform="translate(676 170) rotate(75)" ><rect x="-14.0" y="-6.25" width="28" height="12.5" rx="6.25" fill="#f9903a"/><path d="M0 -6.25 H-7.75 A6.25 6.25 0 0 0 -7.75 6.25 H0 Z" fill="#fba23c"/><rect x="-9.625" y="-3.875" width="18.0" height="2.625" rx="1.3125" fill="#fff" opacity="0.35"/></g>
<g transform="translate(677 190) rotate(80)" ><rect x="-14.0" y="-6.25" width="28" height="12.5" rx="6.25" fill="#f6786a"/><path d="M0 -6.25 H-7.75 A6.25 6.25 0 0 0 -7.75 6.25 H0 Z" fill="#f4607a"/><rect x="-9.625" y="-3.875" width="18.0" height="2.625" rx="1.3125" fill="#fff" opacity="0.35"/></g>
<g transform="translate(678 210) rotate(85)" ><rect x="-14.0" y="-6.25" width="28" height="12.5" rx="6.25" fill="#fbb040"/><path d="M0 -6.25 H-7.75 A6.25 6.25 0 0 0 -7.75 6.25 H0 Z" fill="#fba23c"/><rect x="-9.625" y="-3.875" width="18.0" height="2.625" rx="1.3125" fill="#fff" opacity="0.35"/></g>
<g transform="translate(676 228) rotate(70)" ><rect x="-14.0" y="-6.25" width="28" height="12.5" rx="6.25" fill="#f9a040"/><path d="M0 -6.25 H-7.75 A6.25 6.25 0 0 0 -7.75 6.25 H0 Z" fill="#f4607a"/><rect x="-9.625" y="-3.875" width="18.0" height="2.625" rx="1.3125" fill="#fff" opacity="0.35"/></g>
<g transform="translate(583 213) rotate(5)" ><rect x="-14.0" y="-6.25" width="28" height="12.5" rx="6.25" fill="#f0566e"/><path d="M0 -6.25 H-7.75 A6.25 6.25 0 0 0 -7.75 6.25 H0 Z" fill="#f4687e"/><rect x="-9.625" y="-3.875" width="18.0" height="2.625" rx="1.3125" fill="#fff" opacity="0.35"/></g>
<g transform="translate(582 225) rotate(-5)" ><rect x="-14.0" y="-6.25" width="28" height="12.5" rx="6.25" fill="#f9b830"/><path d="M0 -6.25 H-7.75 A6.25 6.25 0 0 0 -7.75 6.25 H0 Z" fill="#fcd33f"/><rect x="-9.625" y="-3.875" width="18.0" height="2.625" rx="1.3125" fill="#fff" opacity="0.35"/></g>
<g transform="translate(583 238) rotate(10)" ><rect x="-14.0" y="-6.25" width="28" height="12.5" rx="6.25" fill="#fcd33f"/><path d="M0 -6.25 H-7.75 A6.25 6.25 0 0 0 -7.75 6.25 H0 Z" fill="#f4687e"/><rect x="-9.625" y="-3.875" width="18.0" height="2.625" rx="1.3125" fill="#fff" opacity="0.35"/></g>
<g transform="translate(586 249) rotate(0)" ><rect x="-14.0" y="-6.25" width="28" height="12.5" rx="6.25" fill="#f9b830"/><path d="M0 -6.25 H-7.75 A6.25 6.25 0 0 0 -7.75 6.25 H0 Z" fill="#fcd33f"/><rect x="-9.625" y="-3.875" width="18.0" height="2.625" rx="1.3125" fill="#fff" opacity="0.35"/></g>
<g transform="translate(606 166) rotate(10)" ><rect x="-14.0" y="-6.25" width="28" height="12.5" rx="6.25" fill="#f4687e"/><path d="M0 -6.25 H-7.75 A6.25 6.25 0 0 0 -7.75 6.25 H0 Z" fill="#f0566e"/><rect x="-9.625" y="-3.875" width="18.0" height="2.625" rx="1.3125" fill="#fff" opacity="0.35"/></g>
<g transform="translate(632 168) rotate(-8)" ><rect x="-14.0" y="-6.25" width="28" height="12.5" rx="6.25" fill="#f9c033"/><path d="M0 -6.25 H-7.75 A6.25 6.25 0 0 0 -7.75 6.25 H0 Z" fill="#fcd33f"/><rect x="-9.625" y="-3.875" width="18.0" height="2.625" rx="1.3125" fill="#fff" opacity="0.35"/></g>
<g transform="translate(656 166) rotate(8)" ><rect x="-14.0" y="-6.25" width="28" height="12.5" rx="6.25" fill="#f0566e"/><path d="M0 -6.25 H-7.75 A6.25 6.25 0 0 0 -7.75 6.25 H0 Z" fill="#f4687e"/><rect x="-9.625" y="-3.875" width="18.0" height="2.625" rx="1.3125" fill="#fff" opacity="0.35"/></g>
<g transform="translate(582 162) rotate(-15)" ><rect x="-14.0" y="-6.25" width="28" height="12.5" rx="6.25" fill="#f9c033"/><path d="M0 -6.25 H-7.75 A6.25 6.25 0 0 0 -7.75 6.25 H0 Z" fill="#fcd33f"/><rect x="-9.625" y="-3.875" width="18.0" height="2.625" rx="1.3125" fill="#fff" opacity="0.35"/></g>
<g transform="translate(600 157) rotate(-30)" ><rect x="-14.0" y="-6.25" width="28" height="12.5" rx="6.25" fill="#fcd33f"/><path d="M0 -6.25 H-7.75 A6.25 6.25 0 0 0 -7.75 6.25 H0 Z" fill="#f4687e"/><rect x="-9.625" y="-3.875" width="18.0" height="2.625" rx="1.3125" fill="#fff" opacity="0.35"/></g>
<g transform="translate(622 160) rotate(5)" ><rect x="-14.0" y="-6.25" width="28" height="12.5" rx="6.25" fill="#f4687e"/><path d="M0 -6.25 H-7.75 A6.25 6.25 0 0 0 -7.75 6.25 H0 Z" fill="#fcd33f"/><rect x="-9.625" y="-3.875" width="18.0" height="2.625" rx="1.3125" fill="#fff" opacity="0.35"/></g>
<g transform="translate(640 160) rotate(-5)" ><rect x="-14.0" y="-6.25" width="28" height="12.5" rx="6.25" fill="#f4687e"/><path d="M0 -6.25 H-7.75 A6.25 6.25 0 0 0 -7.75 6.25 H0 Z" fill="#f0566e"/><rect x="-9.625" y="-3.875" width="18.0" height="2.625" rx="1.3125" fill="#fff" opacity="0.35"/></g>
<g transform="translate(664 160) rotate(20)" ><rect x="-14.0" y="-6.25" width="28" height="12.5" rx="6.25" fill="#f4687e"/><path d="M0 -6.25 H-7.75 A6.25 6.25 0 0 0 -7.75 6.25 H0 Z" fill="#fbb040"/><rect x="-9.625" y="-3.875" width="18.0" height="2.625" rx="1.3125" fill="#fff" opacity="0.35"/></g>
<g transform="translate(592 151) rotate(25)" ><rect x="-14.0" y="-6.25" width="28" height="12.5" rx="6.25" fill="#fcd33f"/><path d="M0 -6.25 H-7.75 A6.25 6.25 0 0 0 -7.75 6.25 H0 Z" fill="#f57a8c"/><rect x="-9.625" y="-3.875" width="18.0" height="2.625" rx="1.3125" fill="#fff" opacity="0.35"/></g>
<g transform="translate(671 156) rotate(38)" ><rect x="-14.0" y="-6.25" width="28" height="12.5" rx="6.25" fill="#fba23c"/><path d="M0 -6.25 H-7.75 A6.25 6.25 0 0 0 -7.75 6.25 H0 Z" fill="#f46a70"/><rect x="-9.625" y="-3.875" width="18.0" height="2.625" rx="1.3125" fill="#fff" opacity="0.35"/></g>
<g transform="translate(626 150) rotate(0)" ><rect x="-14.0" y="-6.25" width="28" height="12.5" rx="6.25" fill="#f4687e"/><path d="M0 -6.25 H-7.75 A6.25 6.25 0 0 0 -7.75 6.25 H0 Z" fill="#fcd33f"/><rect x="-9.625" y="-3.875" width="18.0" height="2.625" rx="1.3125" fill="#fff" opacity="0.35"/></g>
<g transform="translate(648 152.5) rotate(8)" ><rect x="-14.0" y="-6.25" width="28" height="12.5" rx="6.25" fill="#f0566e"/><path d="M0 -6.25 H-7.75 A6.25 6.25 0 0 0 -7.75 6.25 H0 Z" fill="#fcd33f"/><rect x="-9.625" y="-3.875" width="18.0" height="2.625" rx="1.3125" fill="#fff" opacity="0.35"/></g>
</g>
<rect x="651" y="138" width="35.00" height="109.00" rx="0" fill="#ffa64e" opacity="0.2"/>
<rect x="578.2" y="163.2" width="95.80" height="44.60" rx="1.5" fill="#fbe8c4" />
<path d="M636 207.8 C638 192 645 176 655 163.2 H674 V207.8 Z" fill="#f8dcae" opacity="0.9"/>
<rect x="580.4" y="165.4" width="91.4" height="40.2" fill="none" stroke="#e9c690" stroke-width="0.9"/>
<rect x="591" y="176" width="71.00" height="5.50" rx="0" fill="#dcbd94" />
<rect x="595.6" y="184.6" width="61.60" height="4.60" rx="0" fill="#e6cba4" />
<rect x="595.6" y="191.5" width="61.60" height="4.70" rx="0" fill="#e6cba4" />
<path d="M584.5 87 Q584.5 80.7 592 80.7 H661 Q668.6 80.7 668.6 87 V100 Q668.6 106.4 661 106.4 H592 Q584.5 106.4 584.5 100 Z" fill="url(#gLidBig)" />
<line x1="590.79" x2="590.79" y1="86" y2="105" stroke="#c43f0c" stroke-width="1.3" opacity="0.55"/><line x1="596.36" x2="596.36" y1="86" y2="105" stroke="#c43f0c" stroke-width="1.3" opacity="0.55"/><line x1="601.93" x2="601.93" y1="86" y2="105" stroke="#c43f0c" stroke-width="1.3" opacity="0.55"/><line x1="607.50" x2="607.50" y1="86" y2="105" stroke="#c43f0c" stroke-width="1.3" opacity="0.55"/><line x1="613.07" x2="613.07" y1="86" y2="105" stroke="#c43f0c" stroke-width="1.3" opacity="0.55"/><line x1="618.64" x2="618.64" y1="86" y2="105" stroke="#c43f0c" stroke-width="1.3" opacity="0.55"/><line x1="624.21" x2="624.21" y1="86" y2="105" stroke="#c43f0c" stroke-width="1.3" opacity="0.55"/><line x1="629.79" x2="629.79" y1="86" y2="105" stroke="#c43f0c" stroke-width="1.3" opacity="0.55"/><line x1="635.36" x2="635.36" y1="86" y2="105" stroke="#c43f0c" stroke-width="1.3" opacity="0.55"/><line x1="640.93" x2="640.93" y1="86" y2="105" stroke="#c43f0c" stroke-width="1.3" opacity="0.55"/><line x1="646.50" x2="646.50" y1="86" y2="105" stroke="#c43f0c" stroke-width="1.3" opacity="0.55"/><line x1="652.07" x2="652.07" y1="86" y2="105" stroke="#c43f0c" stroke-width="1.3" opacity="0.55"/><line x1="657.64" x2="657.64" y1="86" y2="105" stroke="#c43f0c" stroke-width="1.3" opacity="0.55"/><line x1="663.21" x2="663.21" y1="86" y2="105" stroke="#c43f0c" stroke-width="1.3" opacity="0.55"/>
<rect x="584.5" y="80.7" width="84.10" height="4.80" rx="3" fill="#f4702a" />
<clipPath id="cpBl"><rect x="131.6" y="170.6" width="108.2" height="80.3" rx="6.5"/></clipPath>
<g clip-path="url(#cpBl)">
<rect x="131.6" y="170.6" width="108.20" height="80.30" rx="0" fill="#e7e9ee" />
<rect x="131.6" y="170.6" width="108.20" height="3.00" rx="0" fill="#f1f2f6" opacity="0.9"/>
<rect x="131.6" y="246.6" width="108.20" height="4.30" rx="0" fill="#d3d6de" opacity="0.9"/>
<rect x="140.7" y="209.8" width="91.00" height="1.40" rx="0.7" fill="#c6c9d1" />
<clipPath id="cc1"><rect x="-15.2" y="-6.7" width="30.4" height="13.4" rx="6.7" transform="translate(133.0 190.7) rotate(-53)"/></clipPath><rect fill="#f3efe9" stroke="#f3efe9" stroke-width="1.6" x="-15.2" y="-6.7" width="30.4" height="13.4" rx="6.7" transform="translate(133.0 190.7) rotate(-53)"/><g clip-path="url(#cc1)"><rect x="117.8" y="175.5" width="30.4" height="30.4" fill="#fcc332"/><rect x="117.8" y="190.7" width="30.4" height="15.2" fill="#e8416b"/><g transform="translate(133.0 190.7) rotate(-53)"><rect x="-15.2" y="1.675" width="30.4" height="6.7" fill="#c4305c" opacity="0.24"/><rect x="-15.2" y="2.3449999999999998" width="30.4" height="6.7" fill="#f08a1c" opacity="0.0"/></g><rect x="117.8" y="190.7" width="30.4" height="2.814" fill="#f66a82" opacity="0.75"/></g><g transform="translate(133.0 190.7) rotate(-53)"><rect x="1.8239999999999998" y="-4.154" width="9.424" height="2.68" rx="1.34" fill="#fde59a" opacity="0.9"/></g>
<clipPath id="cc2"><rect x="-15.2" y="-6.7" width="30.4" height="13.4" rx="6.7" transform="translate(160.7 190.7) rotate(-53)"/></clipPath><rect fill="#f3efe9" stroke="#f3efe9" stroke-width="1.6" x="-15.2" y="-6.7" width="30.4" height="13.4" rx="6.7" transform="translate(160.7 190.7) rotate(-53)"/><g clip-path="url(#cc2)"><rect x="145.5" y="175.5" width="30.4" height="30.4" fill="#fcc332"/><rect x="145.5" y="190.7" width="30.4" height="15.2" fill="#e8416b"/><g transform="translate(160.7 190.7) rotate(-53)"><rect x="-15.2" y="1.675" width="30.4" height="6.7" fill="#c4305c" opacity="0.24"/><rect x="-15.2" y="2.3449999999999998" width="30.4" height="6.7" fill="#f08a1c" opacity="0.0"/></g><rect x="145.5" y="190.7" width="30.4" height="2.814" fill="#f66a82" opacity="0.75"/></g><g transform="translate(160.7 190.7) rotate(-53)"><rect x="1.8239999999999998" y="-4.154" width="9.424" height="2.68" rx="1.34" fill="#fde59a" opacity="0.9"/></g>
<clipPath id="cc3"><rect x="-15.2" y="-6.7" width="30.4" height="13.4" rx="6.7" transform="translate(188.7 190.7) rotate(-53)"/></clipPath><rect fill="#f3efe9" stroke="#f3efe9" stroke-width="1.6" x="-15.2" y="-6.7" width="30.4" height="13.4" rx="6.7" transform="translate(188.7 190.7) rotate(-53)"/><g clip-path="url(#cc3)"><rect x="173.5" y="175.5" width="30.4" height="30.4" fill="#fcc332"/><rect x="173.5" y="190.7" width="30.4" height="15.2" fill="#e8416b"/><g transform="translate(188.7 190.7) rotate(-53)"><rect x="-15.2" y="1.675" width="30.4" height="6.7" fill="#c4305c" opacity="0.24"/><rect x="-15.2" y="2.3449999999999998" width="30.4" height="6.7" fill="#f08a1c" opacity="0.0"/></g><rect x="173.5" y="190.7" width="30.4" height="2.814" fill="#f66a82" opacity="0.75"/></g><g transform="translate(188.7 190.7) rotate(-53)"><rect x="1.8239999999999998" y="-4.154" width="9.424" height="2.68" rx="1.34" fill="#fde59a" opacity="0.9"/></g>
<clipPath id="cc4"><rect x="-15.2" y="-6.7" width="30.4" height="13.4" rx="6.7" transform="translate(215.9 190.7) rotate(-53)"/></clipPath><rect fill="#f3efe9" stroke="#f3efe9" stroke-width="1.6" x="-15.2" y="-6.7" width="30.4" height="13.4" rx="6.7" transform="translate(215.9 190.7) rotate(-53)"/><g clip-path="url(#cc4)"><rect x="200.70000000000002" y="175.5" width="30.4" height="30.4" fill="#fcc332"/><rect x="200.70000000000002" y="190.7" width="30.4" height="15.2" fill="#e8416b"/><g transform="translate(215.9 190.7) rotate(-53)"><rect x="-15.2" y="1.675" width="30.4" height="6.7" fill="#c4305c" opacity="0.24"/><rect x="-15.2" y="2.3449999999999998" width="30.4" height="6.7" fill="#f08a1c" opacity="0.0"/></g><rect x="200.70000000000002" y="190.7" width="30.4" height="2.814" fill="#f66a82" opacity="0.75"/></g><g transform="translate(215.9 190.7) rotate(-53)"><rect x="1.8239999999999998" y="-4.154" width="9.424" height="2.68" rx="1.34" fill="#fde59a" opacity="0.9"/></g>
<clipPath id="cc5"><rect x="-15.2" y="-6.7" width="30.4" height="13.4" rx="6.7" transform="translate(133.0 229.7) rotate(-53)"/></clipPath><rect fill="#f3efe9" stroke="#f3efe9" stroke-width="1.6" x="-15.2" y="-6.7" width="30.4" height="13.4" rx="6.7" transform="translate(133.0 229.7) rotate(-53)"/><g clip-path="url(#cc5)"><rect x="117.8" y="214.5" width="30.4" height="30.4" fill="#fcc332"/><rect x="117.8" y="229.7" width="30.4" height="15.2" fill="#e8416b"/><g transform="translate(133.0 229.7) rotate(-53)"><rect x="-15.2" y="1.675" width="30.4" height="6.7" fill="#c4305c" opacity="0.24"/><rect x="-15.2" y="2.3449999999999998" width="30.4" height="6.7" fill="#f08a1c" opacity="0.0"/></g><rect x="117.8" y="229.7" width="30.4" height="2.814" fill="#f66a82" opacity="0.75"/></g><g transform="translate(133.0 229.7) rotate(-53)"><rect x="1.8239999999999998" y="-4.154" width="9.424" height="2.68" rx="1.34" fill="#fde59a" opacity="0.9"/></g>
<clipPath id="cc6"><rect x="-15.2" y="-6.7" width="30.4" height="13.4" rx="6.7" transform="translate(160.7 229.7) rotate(-53)"/></clipPath><rect fill="#f3efe9" stroke="#f3efe9" stroke-width="1.6" x="-15.2" y="-6.7" width="30.4" height="13.4" rx="6.7" transform="translate(160.7 229.7) rotate(-53)"/><g clip-path="url(#cc6)"><rect x="145.5" y="214.5" width="30.4" height="30.4" fill="#fcc332"/><rect x="145.5" y="229.7" width="30.4" height="15.2" fill="#e8416b"/><g transform="translate(160.7 229.7) rotate(-53)"><rect x="-15.2" y="1.675" width="30.4" height="6.7" fill="#c4305c" opacity="0.24"/><rect x="-15.2" y="2.3449999999999998" width="30.4" height="6.7" fill="#f08a1c" opacity="0.0"/></g><rect x="145.5" y="229.7" width="30.4" height="2.814" fill="#f66a82" opacity="0.75"/></g><g transform="translate(160.7 229.7) rotate(-53)"><rect x="1.8239999999999998" y="-4.154" width="9.424" height="2.68" rx="1.34" fill="#fde59a" opacity="0.9"/></g>
<clipPath id="cc7"><rect x="-15.2" y="-6.7" width="30.4" height="13.4" rx="6.7" transform="translate(188.7 229.7) rotate(-53)"/></clipPath><rect fill="#f3efe9" stroke="#f3efe9" stroke-width="1.6" x="-15.2" y="-6.7" width="30.4" height="13.4" rx="6.7" transform="translate(188.7 229.7) rotate(-53)"/><g clip-path="url(#cc7)"><rect x="173.5" y="214.5" width="30.4" height="30.4" fill="#fcc332"/><rect x="173.5" y="229.7" width="30.4" height="15.2" fill="#e8416b"/><g transform="translate(188.7 229.7) rotate(-53)"><rect x="-15.2" y="1.675" width="30.4" height="6.7" fill="#c4305c" opacity="0.24"/><rect x="-15.2" y="2.3449999999999998" width="30.4" height="6.7" fill="#f08a1c" opacity="0.0"/></g><rect x="173.5" y="229.7" width="30.4" height="2.814" fill="#f66a82" opacity="0.75"/></g><g transform="translate(188.7 229.7) rotate(-53)"><rect x="1.8239999999999998" y="-4.154" width="9.424" height="2.68" rx="1.34" fill="#fde59a" opacity="0.9"/></g>
<clipPath id="cc8"><rect x="-15.2" y="-6.7" width="30.4" height="13.4" rx="6.7" transform="translate(215.9 229.7) rotate(-53)"/></clipPath><rect fill="#f3efe9" stroke="#f3efe9" stroke-width="1.6" x="-15.2" y="-6.7" width="30.4" height="13.4" rx="6.7" transform="translate(215.9 229.7) rotate(-53)"/><g clip-path="url(#cc8)"><rect x="200.70000000000002" y="214.5" width="30.4" height="30.4" fill="#fcc332"/><rect x="200.70000000000002" y="229.7" width="30.4" height="15.2" fill="#e8416b"/><g transform="translate(215.9 229.7) rotate(-53)"><rect x="-15.2" y="1.675" width="30.4" height="6.7" fill="#c4305c" opacity="0.24"/><rect x="-15.2" y="2.3449999999999998" width="30.4" height="6.7" fill="#f08a1c" opacity="0.0"/></g><rect x="200.70000000000002" y="229.7" width="30.4" height="2.814" fill="#f66a82" opacity="0.75"/></g><g transform="translate(215.9 229.7) rotate(-53)"><rect x="1.8239999999999998" y="-4.154" width="9.424" height="2.68" rx="1.34" fill="#fde59a" opacity="0.9"/></g>
</g>
<rect x="81.2" y="158" width="4.40" height="47.00" rx="1" fill="#bfc3ca" />
<rect x="79.2" y="200" width="7.60" height="33.50" rx="3.6" fill="#eef0f3" />
<rect x="84" y="200" width="2.80" height="33.50" rx="2" fill="#cfd2d8" opacity="0.8"/>
<path d="M80 147 Q80 143 84 142.8 L124 141.5 Q131.5 141.5 131.8 148 L132.5 181 H102.5 L103 163 Q103 159.5 99 159.5 H82 Q80 159.5 80 157 Z" fill="#3a8fb0" />
<path d="M116 141.8 L124 141.5 Q131.5 141.5 131.8 148 L132.5 181 H121 Z" fill="#2f7f9f" />
<path d="M80 147 Q80 143 84 142.8 L124 141.5 Q130 141.5 131.4 145.5 L80 148.5 Z" fill="#57a7c4" opacity="0.8"/>
<path d="M100 182 Q100 179 104 179 H130 Q134 179 134 182 V193 Q134 196 130 196 H104 Q100 196 100 193 Z" fill="#c9ccd2" />
<line x1="101.70" x2="101.70" y1="181" y2="195" stroke="#9da1aa" stroke-width="1" opacity="0.5"/><line x1="105.10" x2="105.10" y1="181" y2="195" stroke="#9da1aa" stroke-width="1" opacity="0.5"/><line x1="108.50" x2="108.50" y1="181" y2="195" stroke="#9da1aa" stroke-width="1" opacity="0.5"/><line x1="111.90" x2="111.90" y1="181" y2="195" stroke="#9da1aa" stroke-width="1" opacity="0.5"/><line x1="115.30" x2="115.30" y1="181" y2="195" stroke="#9da1aa" stroke-width="1" opacity="0.5"/><line x1="118.70" x2="118.70" y1="181" y2="195" stroke="#9da1aa" stroke-width="1" opacity="0.5"/><line x1="122.10" x2="122.10" y1="181" y2="195" stroke="#9da1aa" stroke-width="1" opacity="0.5"/><line x1="125.50" x2="125.50" y1="181" y2="195" stroke="#9da1aa" stroke-width="1" opacity="0.5"/><line x1="128.90" x2="128.90" y1="181" y2="195" stroke="#9da1aa" stroke-width="1" opacity="0.5"/><line x1="132.30" x2="132.30" y1="181" y2="195" stroke="#9da1aa" stroke-width="1" opacity="0.5"/>
<rect x="100" y="179" width="34.00" height="3.50" rx="1.5" fill="#e2e4e8" />
<path d="M94.5 202 Q94.5 195 102 195 H132 Q139.6 195 139.6 202 V252 Q139.6 258.6 132 258.6 H102 Q94.5 258.6 94.5 252 Z" fill="#e4e7ec" />
<rect x="94.5" y="204" width="45.10" height="41.00" rx="0" fill="#3f97b2" />
<rect x="94.5" y="204" width="13.50" height="41.00" rx="0" fill="#4fa6bf" opacity="0.7"/>
<rect x="124" y="204" width="15.60" height="41.00" rx="0" fill="#348aa6" opacity="0.8"/>
<ellipse cx="107.5" cy="221" rx="9.2" ry="9.2" fill="#5fc0cf" opacity="0.75"/>
<rect x="119.5" y="217.5" width="18.50" height="2.60" rx="0" fill="#2d6f93" />
<rect x="119.5" y="222.3" width="18.50" height="2.60" rx="0" fill="#2d6f93" />
<rect x="119.5" y="227.1" width="18.50" height="2.60" rx="0" fill="#2d6f93" />
<path d="M124 258.6 L131 195 H132 Q139.6 195 139.6 202 V252 Q139.6 258.6 132 258.6 Z" fill="#9aa0ad" opacity="0.28"/>
<path d="M260 176 H321.6 L317.4 253 Q317 259.8 310 259.8 H272 Q265.3 259.8 265 253 Z" fill="url(#gJarSm)" />
<clipPath id="cpJ2"><path d="M262 192 H320 L316.4 253 Q316 257.6 310 257.6 H272 Q266.4 257.6 266 253 Z"/></clipPath>
<g clip-path="url(#cpJ2)">
<ellipse cx="276" cy="204" rx="6.2" ry="6.2" fill="#f26f28" />
<ellipse cx="274.8" cy="202.5" rx="3.6" ry="3.4" fill="#f9934c" opacity="0.9"/>
<ellipse cx="285" cy="199" rx="6.2" ry="6.2" fill="#f26f28" />
<ellipse cx="283.8" cy="197.5" rx="3.6" ry="3.4" fill="#f9934c" opacity="0.9"/>
<ellipse cx="295" cy="198" rx="6.2" ry="6.2" fill="#f26f28" />
<ellipse cx="293.8" cy="196.5" rx="3.6" ry="3.4" fill="#f9934c" opacity="0.9"/>
<ellipse cx="304" cy="203" rx="6.2" ry="6.2" fill="#f26f28" />
<ellipse cx="302.8" cy="201.5" rx="3.6" ry="3.4" fill="#f9934c" opacity="0.9"/>
<ellipse cx="271" cy="215" rx="6.2" ry="6.2" fill="#f26f28" />
<ellipse cx="269.8" cy="213.5" rx="3.6" ry="3.4" fill="#f9934c" opacity="0.9"/>
<ellipse cx="281" cy="212" rx="6.2" ry="6.2" fill="#f26f28" />
<ellipse cx="279.8" cy="210.5" rx="3.6" ry="3.4" fill="#f9934c" opacity="0.9"/>
<ellipse cx="292" cy="210" rx="6.2" ry="6.2" fill="#f26f28" />
<ellipse cx="290.8" cy="208.5" rx="3.6" ry="3.4" fill="#f9934c" opacity="0.9"/>
<ellipse cx="302" cy="214" rx="6.2" ry="6.2" fill="#f26f28" />
<ellipse cx="300.8" cy="212.5" rx="3.6" ry="3.4" fill="#f9934c" opacity="0.9"/>
<ellipse cx="273" cy="227" rx="6.2" ry="6.2" fill="#f26f28" />
<ellipse cx="271.8" cy="225.5" rx="3.6" ry="3.4" fill="#f9934c" opacity="0.9"/>
<ellipse cx="284" cy="225" rx="6.2" ry="6.2" fill="#f26f28" />
<ellipse cx="282.8" cy="223.5" rx="3.6" ry="3.4" fill="#f9934c" opacity="0.9"/>
<ellipse cx="295" cy="223" rx="6.2" ry="6.2" fill="#f26f28" />
<ellipse cx="293.8" cy="221.5" rx="3.6" ry="3.4" fill="#f9934c" opacity="0.9"/>
<ellipse cx="306" cy="226" rx="6.2" ry="6.2" fill="#f26f28" />
<ellipse cx="304.8" cy="224.5" rx="3.6" ry="3.4" fill="#f9934c" opacity="0.9"/>
<ellipse cx="275" cy="239" rx="6.2" ry="6.2" fill="#f26f28" />
<ellipse cx="273.8" cy="237.5" rx="3.6" ry="3.4" fill="#f9934c" opacity="0.9"/>
<ellipse cx="286" cy="237" rx="6.2" ry="6.2" fill="#f26f28" />
<ellipse cx="284.8" cy="235.5" rx="3.6" ry="3.4" fill="#f9934c" opacity="0.9"/>
<ellipse cx="297" cy="236" rx="6.2" ry="6.2" fill="#f26f28" />
<ellipse cx="295.8" cy="234.5" rx="3.6" ry="3.4" fill="#f9934c" opacity="0.9"/>
<ellipse cx="308" cy="239" rx="6.2" ry="6.2" fill="#f26f28" />
<ellipse cx="306.8" cy="237.5" rx="3.6" ry="3.4" fill="#f9934c" opacity="0.9"/>
<ellipse cx="278" cy="250" rx="6.2" ry="6.2" fill="#f26f28" />
<ellipse cx="276.8" cy="248.5" rx="3.6" ry="3.4" fill="#f9934c" opacity="0.9"/>
<ellipse cx="290" cy="249" rx="6.2" ry="6.2" fill="#f26f28" />
<ellipse cx="288.8" cy="247.5" rx="3.6" ry="3.4" fill="#f9934c" opacity="0.9"/>
<ellipse cx="301" cy="248" rx="6.2" ry="6.2" fill="#f26f28" />
<ellipse cx="299.8" cy="246.5" rx="3.6" ry="3.4" fill="#f9934c" opacity="0.9"/>
<ellipse cx="311" cy="250" rx="6.2" ry="6.2" fill="#f26f28" />
<ellipse cx="309.8" cy="248.5" rx="3.6" ry="3.4" fill="#f9934c" opacity="0.9"/>
<ellipse cx="312" cy="215" rx="6.2" ry="6.2" fill="#f26f28" />
<ellipse cx="310.8" cy="213.5" rx="3.6" ry="3.4" fill="#f9934c" opacity="0.9"/>
<ellipse cx="313" cy="232" rx="6.2" ry="6.2" fill="#f26f28" />
<ellipse cx="311.8" cy="230.5" rx="3.6" ry="3.4" fill="#f9934c" opacity="0.9"/>
</g>
<path d="M262 192 L266 253 Q266.4 257.6 272 257.6 H276 L270 192 Z" fill="#fcc672" opacity="0.55"/>
<rect x="269.4" y="189" width="3.40" height="33.00" rx="1.7" fill="#fde3b4" opacity="0.85"/>
<rect x="286.3" y="205.8" width="32.50" height="25.00" rx="0.8" fill="#fce5bb" />
<rect x="289" y="208.8" width="14.00" height="18.60" rx="0" fill="#f1c283" />
<rect x="305" y="210" width="13.00" height="2.00" rx="0" fill="#e9a860" />
<rect x="305" y="214.2" width="13.00" height="2.00" rx="0" fill="#e9a860" />
<rect x="305" y="218.4" width="13.00" height="2.00" rx="0" fill="#e9a860" />
<rect x="305" y="222.8" width="13.00" height="2.00" rx="0" fill="#e9a860" />
<path d="M257 161 C257 154.5 324 154.5 324 161 V175 C324 181.5 257 181.5 257 175 Z" fill="#f5cd80" />
<line x1="261.42" x2="261.42" y1="162" y2="178.5" stroke="#e3b25f" stroke-width="1.1" opacity="0.6"/><line x1="266.27" x2="266.27" y1="162" y2="178.5" stroke="#e3b25f" stroke-width="1.1" opacity="0.6"/><line x1="271.12" x2="271.12" y1="162" y2="178.5" stroke="#e3b25f" stroke-width="1.1" opacity="0.6"/><line x1="275.96" x2="275.96" y1="162" y2="178.5" stroke="#e3b25f" stroke-width="1.1" opacity="0.6"/><line x1="280.81" x2="280.81" y1="162" y2="178.5" stroke="#e3b25f" stroke-width="1.1" opacity="0.6"/><line x1="285.65" x2="285.65" y1="162" y2="178.5" stroke="#e3b25f" stroke-width="1.1" opacity="0.6"/><line x1="290.50" x2="290.50" y1="162" y2="178.5" stroke="#e3b25f" stroke-width="1.1" opacity="0.6"/><line x1="295.35" x2="295.35" y1="162" y2="178.5" stroke="#e3b25f" stroke-width="1.1" opacity="0.6"/><line x1="300.19" x2="300.19" y1="162" y2="178.5" stroke="#e3b25f" stroke-width="1.1" opacity="0.6"/><line x1="305.04" x2="305.04" y1="162" y2="178.5" stroke="#e3b25f" stroke-width="1.1" opacity="0.6"/><line x1="309.88" x2="309.88" y1="162" y2="178.5" stroke="#e3b25f" stroke-width="1.1" opacity="0.6"/><line x1="314.73" x2="314.73" y1="162" y2="178.5" stroke="#e3b25f" stroke-width="1.1" opacity="0.6"/><line x1="319.58" x2="319.58" y1="162" y2="178.5" stroke="#e3b25f" stroke-width="1.1" opacity="0.6"/>
<ellipse cx="290.5" cy="161" rx="33.5" ry="4.6" fill="#fbe4ad" />
<path d="M257 172 C257 178.5 324 178.5 324 172 V175 C324 181.5 257 181.5 257 175 Z" fill="#ecbc68" />
<path d="M353.5 99 Q353.5 95.5 357 95.5 H362 Q365.5 95.5 365.5 99 L370 132 H349 Z" fill="#dfe1e6" />
<path d="M360 95.5 H362 Q365.5 95.5 365.5 99 L370 132 H361.5 Z" fill="#bfc2ca" />
<path d="M338 134 Q338 132 341 132 H376 Q379 132 379 134 Q379 137.6 372 137.6 H345 Q338 137.6 338 134 Z" fill="#e6e8ec" />
<path d="M362 132 H376 Q379 132 379 134 Q379 137.6 372 137.6 H362 Z" fill="#c5c8cf" />
<rect x="347.4" y="137.6" width="22.60" height="16.40" rx="0" fill="#d6d9de" />
<rect x="360" y="137.6" width="10.00" height="16.40" rx="0" fill="#b9bcc4" />
<rect x="344.8" y="153" width="26.40" height="12.00" rx="2" fill="#e4e6ea" />
<rect x="360" y="153" width="11.20" height="12.00" rx="2" fill="#c3c6cd" />
<path d="M347 164 H369.5 C371 171 385.5 176 385.5 192 V250 Q385.5 257.2 378 257.2 H339 Q331.3 257.2 331.3 250 V192 C331.3 176 345.5 171 347 164 Z" fill="url(#gNasal)" />
<rect x="331.3" y="193.7" width="54.20" height="42.50" rx="0" fill="#eceef3" />
<rect x="361" y="193.7" width="24.50" height="42.50" rx="0" fill="#d3d6df" />
<rect x="331.3" y="193.7" width="54.20" height="3.30" rx="0" fill="#c6c9d4" opacity="0.8"/>
<rect x="331.3" y="232.6" width="54.20" height="3.60" rx="0" fill="#bfc2ce" opacity="0.8"/>
<rect x="337" y="210" width="40.00" height="3.40" rx="0" fill="#9a9eab" />
<rect x="338.5" y="215.4" width="37.00" height="2.60" rx="0" fill="#b3b6c3" />
<rect x="338.5" y="220" width="37.00" height="2.60" rx="0" fill="#b3b6c3" />
<path d="M345.5 180 C346 176 348 173.5 350.5 172.5 C349 176 348 179 347.5 183 Z" fill="#fff" opacity="0.9"/>
<ellipse cx="346.3" cy="186" rx="0.9" ry="1.3" fill="#fff" opacity="0.85"/>
<path d="M352 257.2 C353 230 358 200 366 176 L372 180 C364 204 360 232 360 257.2 Z" fill="#fff" opacity="0.12"/>
<path d="M438.4 208 H488.5 V256 Q488.5 262.8 482 262.8 H445 Q438.4 262.8 438.4 256 Z" fill="#aedcea" />
<path d="M472 208 H488.5 V256 Q488.5 262.8 482 262.8 H472 Z" fill="#8fc3d6" opacity="0.6"/>
<clipPath id="cpS"><path d="M439.5 210 H487.5 V256 Q487.5 261.6 482 261.6 H445 Q439.5 261.6 439.5 256 Z"/></clipPath>
<g clip-path="url(#cpS)">
<rect x="440.7" y="213.6" width="8.6" height="4.8" rx="2.4" fill="#fff" transform="rotate(-45 445 216)"/>
<rect x="447.7" y="216.6" width="8.6" height="4.8" rx="2.4" fill="#3f8fc0" transform="rotate(2 452 219)"/>
<rect x="455.7" y="213.6" width="8.6" height="4.8" rx="2.4" fill="#fff" transform="rotate(-41 460 216)"/>
<rect x="463.7" y="216.6" width="8.6" height="4.8" rx="2.4" fill="#3f8fc0" transform="rotate(6 468 219)"/>
<rect x="471.7" y="213.6" width="8.6" height="4.8" rx="2.4" fill="#fff" transform="rotate(-37 476 216)"/>
<rect x="478.7" y="216.6" width="8.6" height="4.8" rx="2.4" fill="#3f8fc0" transform="rotate(10 483 219)"/>
<rect x="439.7" y="247.6" width="8.6" height="4.8" rx="2.4" fill="#fff" transform="rotate(-33 444 250)"/>
<rect x="446.7" y="251.6" width="8.6" height="4.8" rx="2.4" fill="#3f8fc0" transform="rotate(14 451 254)"/>
<rect x="453.7" y="246.6" width="8.6" height="4.8" rx="2.4" fill="#fff" transform="rotate(-29 458 249)"/>
<rect x="460.7" y="251.6" width="8.6" height="4.8" rx="2.4" fill="#3f8fc0" transform="rotate(18 465 254)"/>
<rect x="467.7" y="246.6" width="8.6" height="4.8" rx="2.4" fill="#fff" transform="rotate(-25 472 249)"/>
<rect x="474.7" y="251.6" width="8.6" height="4.8" rx="2.4" fill="#3f8fc0" transform="rotate(22 479 254)"/>
<rect x="480.7" y="246.6" width="8.6" height="4.8" rx="2.4" fill="#fff" transform="rotate(-21 485 249)"/>
<rect x="442.7" y="255.6" width="8.6" height="4.8" rx="2.4" fill="#3f8fc0" transform="rotate(26 447 258)"/>
<rect x="451.7" y="256.6" width="8.6" height="4.8" rx="2.4" fill="#fff" transform="rotate(-17 456 259)"/>
<rect x="463.7" y="256.6" width="8.6" height="4.8" rx="2.4" fill="#fff" transform="rotate(30 468 259)"/>
<rect x="472.7" y="256.6" width="8.6" height="4.8" rx="2.4" fill="#3f8fc0" transform="rotate(-13 477 259)"/>
</g>
<rect x="438.4" y="223" width="50.10" height="22.60" rx="0" fill="#f0f2f5" />
<rect x="470" y="223" width="18.50" height="22.60" rx="0" fill="#dfe3e9" />
<rect x="449" y="228.6" width="28.00" height="2.80" rx="0" fill="#9fa3b0" />
<rect x="451" y="233.4" width="24.00" height="2.00" rx="0" fill="#b9bcc8" />
<rect x="451" y="237.2" width="24.00" height="2.00" rx="0" fill="#b9bcc8" />
<path d="M436 197.5 Q436 193.6 440 193.6 H486.5 Q490.5 193.6 490.5 197.5 V205 Q490.5 208.9 486.5 208.9 H440 Q436 208.9 436 205 Z" fill="#dfe2e7" />
<line x1="438.89" x2="438.89" y1="197" y2="208" stroke="#a9adb6" stroke-width="1" opacity="0.45"/><line x1="442.68" x2="442.68" y1="197" y2="208" stroke="#a9adb6" stroke-width="1" opacity="0.45"/><line x1="446.46" x2="446.46" y1="197" y2="208" stroke="#a9adb6" stroke-width="1" opacity="0.45"/><line x1="450.25" x2="450.25" y1="197" y2="208" stroke="#a9adb6" stroke-width="1" opacity="0.45"/><line x1="454.04" x2="454.04" y1="197" y2="208" stroke="#a9adb6" stroke-width="1" opacity="0.45"/><line x1="457.82" x2="457.82" y1="197" y2="208" stroke="#a9adb6" stroke-width="1" opacity="0.45"/><line x1="461.61" x2="461.61" y1="197" y2="208" stroke="#a9adb6" stroke-width="1" opacity="0.45"/><line x1="465.39" x2="465.39" y1="197" y2="208" stroke="#a9adb6" stroke-width="1" opacity="0.45"/><line x1="469.18" x2="469.18" y1="197" y2="208" stroke="#a9adb6" stroke-width="1" opacity="0.45"/><line x1="472.96" x2="472.96" y1="197" y2="208" stroke="#a9adb6" stroke-width="1" opacity="0.45"/><line x1="476.75" x2="476.75" y1="197" y2="208" stroke="#a9adb6" stroke-width="1" opacity="0.45"/><line x1="480.54" x2="480.54" y1="197" y2="208" stroke="#a9adb6" stroke-width="1" opacity="0.45"/><line x1="484.32" x2="484.32" y1="197" y2="208" stroke="#a9adb6" stroke-width="1" opacity="0.45"/><line x1="488.11" x2="488.11" y1="197" y2="208" stroke="#a9adb6" stroke-width="1" opacity="0.45"/>
<rect x="436" y="193.6" width="54.50" height="3.60" rx="2" fill="#f0f2f5" />
<path d="M498.5 215.5 C498.5 211.4 558.1 211.4 558.1 215.5 L552.4 257 Q552 262.8 546 262.8 H511.5 Q505.8 262.8 505.2 257 Z" fill="#b99682" opacity="0.78"/>
<ellipse cx="528.3" cy="215.5" rx="29.8" ry="3.1" fill="#cfae94" opacity="0.75"/>
<path d="M503.3 231 C503.3 227.4 553.5 227.4 553.5 231 L550.6 257 Q550 261 545 261 H512.5 Q507.5 261 507 257 Z" fill="#f58b2c" />
<path d="M503.3 231 C503.3 227.4 553.5 227.4 553.5 231 C553.5 234.6 503.3 234.6 503.3 231 Z" fill="#f9a63f" />
<path d="M503.3 231 L507 257 Q507.5 261 512.5 261 H516 L512 232.8 Z" fill="#f9a24a" opacity="0.8"/>
<path d="M538 233.6 L553.5 231 L550.6 257 Q550 261 545 261 H538 Z" fill="#ea7a22" opacity="0.6"/>
<rect x="518" y="230.5" width="25.50" height="1.00" rx="0" fill="#fde6c4" opacity="0.9"/>
<rect x="523.6" y="234.9" width="14.30" height="1.00" rx="0" fill="#fde6c4" opacity="0.9"/>
<rect x="523.6" y="239.3" width="14.30" height="1.00" rx="0" fill="#fde6c4" opacity="0.9"/>
<rect x="518" y="243.3" width="25.50" height="1.00" rx="0" fill="#fde6c4" opacity="0.9"/>
<rect x="523.6" y="247.4" width="14.30" height="1.00" rx="0" fill="#fde6c4" opacity="0.9"/>
<rect x="523.6" y="251.7" width="14.30" height="1.00" rx="0" fill="#fde6c4" opacity="0.9"/>
<rect x="518" y="256.1" width="25.50" height="1.00" rx="0" fill="#fde6c4" opacity="0.9"/>
<rect x="690" y="210.4" width="46.20" height="46.00" rx="4.5" fill="#e6e8ec" />
<rect x="690" y="250" width="46.20" height="6.40" rx="3" fill="#cdd0d7" />
<rect x="697" y="232.3" width="34.00" height="1.20" rx="0.5" fill="#c3c6ce" />
<g transform="rotate(-42 706 221)"><rect x="697.7" y="216.7" width="16.6" height="8.6" rx="4.3" fill="#fafbfc" stroke="#d3d6dc" stroke-width="0.7"/><line x1="706" x2="706" y1="217" y2="225" stroke="#cfd2d9" stroke-width="0.8"/></g>
<g transform="rotate(-42 722.8 221)"><rect x="714.5" y="216.7" width="16.6" height="8.6" rx="4.3" fill="#fafbfc" stroke="#d3d6dc" stroke-width="0.7"/><line x1="722.8" x2="722.8" y1="217" y2="225" stroke="#cfd2d9" stroke-width="0.8"/></g>
<g transform="rotate(-42 706 244.5)"><rect x="697.7" y="240.2" width="16.6" height="8.6" rx="4.3" fill="#fafbfc" stroke="#d3d6dc" stroke-width="0.7"/><line x1="706" x2="706" y1="240.5" y2="248.5" stroke="#cfd2d9" stroke-width="0.8"/></g>
<g transform="rotate(-42 722.8 244.5)"><rect x="714.5" y="240.2" width="16.6" height="8.6" rx="4.3" fill="#fafbfc" stroke="#d3d6dc" stroke-width="0.7"/><line x1="722.8" x2="722.8" y1="240.5" y2="248.5" stroke="#cfd2d9" stroke-width="0.8"/></g>
<path d="M593.3 209 L605.5 207.6 L702.4 205.5 L697.4 261.2 L594 261.6 Z" fill="#3d87b4" />
<path d="M593.3 208.6 L605.5 207.2 L605.8 261.9 L594 262 Z" fill="#4aa6c9" />
<path d="M605.5 207.2 L615.4 207 L615.6 261.8 L605.8 261.9 Z" fill="#cfe0ee" />
<path d="M615.4 207 L702.4 205.6 L701.6 214 C670 214 640 222 615.5 240 Z" fill="#4d9ac3" opacity="0.75"/>
<path d="M640 261.6 C655 240 675 222 701 212 L697.4 261.2 Z" fill="#3579a7" opacity="0.6"/>
<rect x="631.2" y="215.5" width="56.30" height="4.90" rx="0" fill="#2f6f9f" />
<rect x="653.2" y="224.2" width="34.30" height="3.20" rx="0" fill="#2f6f9f" />
<rect x="653.2" y="230.2" width="34.30" height="3.20" rx="0" fill="#2f6f9f" />
<rect x="653.2" y="236.2" width="34.30" height="3.20" rx="0" fill="#2f6f9f" />
<g transform="translate(139 259) rotate(3)" ><rect x="-14.0" y="-6.0" width="28" height="12" rx="6.0" fill="#ea4a6e"/><path d="M0 -6.0 H-8.0 A6.0 6.0 0 0 0 -8.0 6.0 H0 Z" fill="#fbc02d"/><rect x="-9.8" y="-3.7199999999999998" width="18.4" height="2.52" rx="1.26" fill="#fff" opacity="0.35"/></g>
<ellipse cx="171.5" cy="265.8" rx="14.5" ry="8.8" fill="#f5a623" />
<ellipse cx="171" cy="264.3" rx="13.8" ry="7.4" fill="#fbbf2f" />
<ellipse cx="166.5" cy="262" rx="5.5" ry="2.2" fill="#fde08a" opacity="0.8"/>
<ellipse cx="211.5" cy="254.3" rx="11.7" ry="6.3" fill="#2f78a6" />
<ellipse cx="211.3" cy="253" rx="11.2" ry="5.2" fill="#3f8fc0" />
<ellipse cx="252.5" cy="265.3" rx="11.5" ry="5.9" fill="#c9ccd3" />
<ellipse cx="252.5" cy="263.9" rx="11.3" ry="4.8" fill="#eef0f3" />
<g transform="translate(271.8 272.8) rotate(2)" ><rect x="-13.8" y="-6.2" width="27.6" height="12.4" rx="6.2" fill="#ea4a6e"/><path d="M0 -6.2 H-7.6000000000000005 A6.2 6.2 0 0 0 -7.6000000000000005 6.2 H0 Z" fill="#fbc02d"/><rect x="-9.46" y="-3.844" width="17.68" height="2.604" rx="1.302" fill="#fff" opacity="0.35"/></g>
<ellipse cx="358.3" cy="270.6" rx="14.3" ry="8.6" fill="#f5a623" />
<ellipse cx="357.8" cy="269" rx="13.6" ry="7.3" fill="#fbbf2f" />
<ellipse cx="353.5" cy="266.5" rx="5.5" ry="2.2" fill="#fde08a" opacity="0.8"/>
<rect x="362.5" y="257" width="35.30" height="10.60" rx="5.3" fill="#cfd2d8" />
<rect x="362.5" y="257" width="35.30" height="8.80" rx="4.4" fill="#f2f3f6" />
<rect x="379.6" y="257.4" width="1.00" height="8.20" rx="0" fill="#cfd2d8" />
<ellipse cx="491.8" cy="271.6" rx="11.9" ry="6.2" fill="#c9ccd3" />
<ellipse cx="491.8" cy="270.2" rx="11.7" ry="5.1" fill="#eef0f3" />
<g transform="translate(554.8 263.2) rotate(2)" ><rect x="-14.5" y="-6.5" width="29" height="13" rx="6.5" fill="#3f86b5"/><path d="M0 -6.5 H-8.0 A6.5 6.5 0 0 0 -8.0 6.5 H0 Z" fill="#eef1f4"/><rect x="-9.95" y="-4.03" width="18.6" height="2.73" rx="1.365" fill="#fff" opacity="0.35"/></g>
<ellipse cx="622" cy="262.3" rx="15.4" ry="9" fill="#b5173f" />
<ellipse cx="621.5" cy="261" rx="14.8" ry="7.8" fill="#d42655" />
<ellipse cx="616.5" cy="257.6" rx="6" ry="2.3" fill="#ef6d8e" opacity="0.8"/>
<rect x="639.8" y="265.2" width="36.70" height="10.50" rx="5.2" fill="#cfd2d8" />
<rect x="639.8" y="265.2" width="36.70" height="8.80" rx="4.4" fill="#f2f3f6" />
<rect x="657.6" y="265.6" width="1.00" height="8.20" rx="0" fill="#cfd2d8" />
<ellipse cx="604" cy="277.6" rx="12" ry="6.2" fill="#c9ccd3" />
<ellipse cx="604" cy="276.2" rx="11.8" ry="5.1" fill="#eef0f3" />
</g>
</svg>
</div>
<div id="charts"></div>
<svg style="position:absolute;left:0;top:0" width="817" height="603" viewBox="0 0 817 603">
<line x1="409.5" y1="300.8" x2="409.5" y2="572" stroke="#92d050" stroke-width="1.4" stroke-dasharray="6.2 3.6"/>
<line x1="34.3" x2="394.7" y1="511.45" y2="511.45" stroke="#2c9cbc" stroke-width="1.1" stroke-dasharray="4.5 2.55"/>
<line x1="34.3" x2="394.7" y1="475.60" y2="475.60" stroke="#2c9cbc" stroke-width="1.1" stroke-dasharray="4.5 2.55"/>
<line x1="34.3" x2="394.7" y1="439.75" y2="439.75" stroke="#2c9cbc" stroke-width="1.1" stroke-dasharray="4.5 2.55"/>
<line x1="34.3" x2="394.7" y1="403.90" y2="403.90" stroke="#2c9cbc" stroke-width="1.1" stroke-dasharray="4.5 2.55"/>
<line x1="34.3" x2="394.7" y1="368.05" y2="368.05" stroke="#2c9cbc" stroke-width="1.1" stroke-dasharray="4.5 2.55"/>
<line x1="34.3" x2="394.7" y1="332.20" y2="332.20" stroke="#2c9cbc" stroke-width="1.1" stroke-dasharray="4.5 2.55"/>
<line x1="34.3" x2="394.7" y1="547.3" y2="547.3" stroke="#dbe5e8" stroke-width="1.1"/>
<line x1="443.1" x2="802.7" y1="523.30" y2="523.30" stroke="#2c9cbc" stroke-width="1.1" stroke-dasharray="4.5 2.55"/>
<line x1="443.1" x2="802.7" y1="499.40" y2="499.40" stroke="#2c9cbc" stroke-width="1.1" stroke-dasharray="4.5 2.55"/>
<line x1="443.1" x2="802.7" y1="475.50" y2="475.50" stroke="#2c9cbc" stroke-width="1.1" stroke-dasharray="4.5 2.55"/>
<line x1="443.1" x2="802.7" y1="451.60" y2="451.60" stroke="#2c9cbc" stroke-width="1.1" stroke-dasharray="4.5 2.55"/>
<line x1="443.1" x2="802.7" y1="427.70" y2="427.70" stroke="#2c9cbc" stroke-width="1.1" stroke-dasharray="4.5 2.55"/>
<line x1="443.1" x2="802.7" y1="403.80" y2="403.80" stroke="#2c9cbc" stroke-width="1.1" stroke-dasharray="4.5 2.55"/>
<line x1="443.1" x2="802.7" y1="379.90" y2="379.90" stroke="#2c9cbc" stroke-width="1.1" stroke-dasharray="4.5 2.55"/>
<line x1="443.1" x2="802.7" y1="356.00" y2="356.00" stroke="#2c9cbc" stroke-width="1.1" stroke-dasharray="4.5 2.55"/>
<line x1="443.1" x2="802.7" y1="332.10" y2="332.10" stroke="#2c9cbc" stroke-width="1.1" stroke-dasharray="4.5 2.55"/>
<line x1="443.1" x2="802.7" y1="547.2" y2="547.2" stroke="#dbe5e8" stroke-width="1.1"/>
</svg>
<div class="ct" style="left:105px"><b>В денежном выражении</b> <span class="sep">|</span> <span class="u">млрд тг</span></div>
<div class="yl" style="left:-4.5px;top:541.30px">0</div>
<div class="yl" style="left:-4.5px;top:505.45px">100</div>
<div class="yl" style="left:-4.5px;top:469.60px">200</div>
<div class="yl" style="left:-4.5px;top:433.75px">300</div>
<div class="yl" style="left:-4.5px;top:397.90px">400</div>
<div class="yl" style="left:-4.5px;top:362.05px">500</div>
<div class="yl" style="left:-4.5px;top:326.20px">600</div>
<div class="bar" style="left:59px;width:71.0px;top:403.80px;height:143.50px"></div>
<div class="dl" style="left:54.5px;top:384.10px">400,7</div>
<div class="xl" style="left:54.5px">2023/09</div>
<div class="bar" style="left:179px;width:71.0px;top:374.10px;height:173.20px"></div>
<div class="dl" style="left:174.5px;top:354.40px">486,2</div>
<div class="xl" style="left:174.5px">2024/09</div>
<div class="bar" style="left:299.7px;width:70.7px;top:355.20px;height:192.10px"></div>
<div class="dl" style="left:295.0px;top:335.50px">537,4</div>
<div class="xl" style="left:295.0px">2025/09</div>
<div class="ct" style="left:506px"><b class="b2">В натуральном выражении</b> <span class="sep">|</span> <span class="u">млн ед.</span></div>
<div class="yl" style="left:405px;top:541.20px">300</div>
<div class="yl" style="left:405px;top:517.30px">310</div>
<div class="yl" style="left:405px;top:493.40px">320</div>
<div class="yl" style="left:405px;top:469.50px">330</div>
<div class="yl" style="left:405px;top:445.60px">340</div>
<div class="yl" style="left:405px;top:421.70px">350</div>
<div class="yl" style="left:405px;top:397.80px">360</div>
<div class="yl" style="left:405px;top:373.90px">370</div>
<div class="yl" style="left:405px;top:350.00px">380</div>
<div class="yl" style="left:405px;top:326.10px">390</div>
<div class="bar" style="left:467.7px;width:71.1px;top:432.90px;height:114.30px"></div>
<div class="dl" style="left:463.2px;top:413.20px">347,8</div>
<div class="xl" style="left:463.2px">2023/09</div>
<div class="bar" style="left:588.2px;width:69.7px;top:365.10px;height:182.10px"></div>
<div class="dl" style="left:583.0px;top:345.40px">376,7</div>
<div class="xl" style="left:583.0px">2024/09</div>
<div class="bar" style="left:707.9px;width:70.2px;top:478.10px;height:69.10px"></div>
<div class="dl" style="left:703.0px;top:458.40px">329,00</div>
<div class="xl" style="left:703.0px">2025/09</div>
<div id="footer"><span class="src">Источник: Proxima Research</span>
<svg style="position:absolute;left:0;top:-577px" width="817" height="603" viewBox="0 0 817 603"><path d="M733.80 582.50 C736.20 581.50 740.20 582.10 745.00 581.90 L743.80 585.60 C740.20 585.50 736.20 585.50 732.20 586.90 Z" fill="#f2f5f6"/><path d="M732.00 587.40 C734.40 586.40 738.40 587.00 743.20 586.80 L742.00 590.50 C738.40 590.40 734.40 590.40 730.40 591.80 Z" fill="#f2f5f6"/><path d="M730.40 592.20 C732.80 591.20 736.80 591.80 741.60 591.60 L740.40 595.30 C736.80 595.20 732.80 595.20 728.80 596.60 Z" fill="#f2f5f6"/></svg><span class="lg1">Energy</span><span class="lg2">Prom</span>
</div>
</body>
</html>
